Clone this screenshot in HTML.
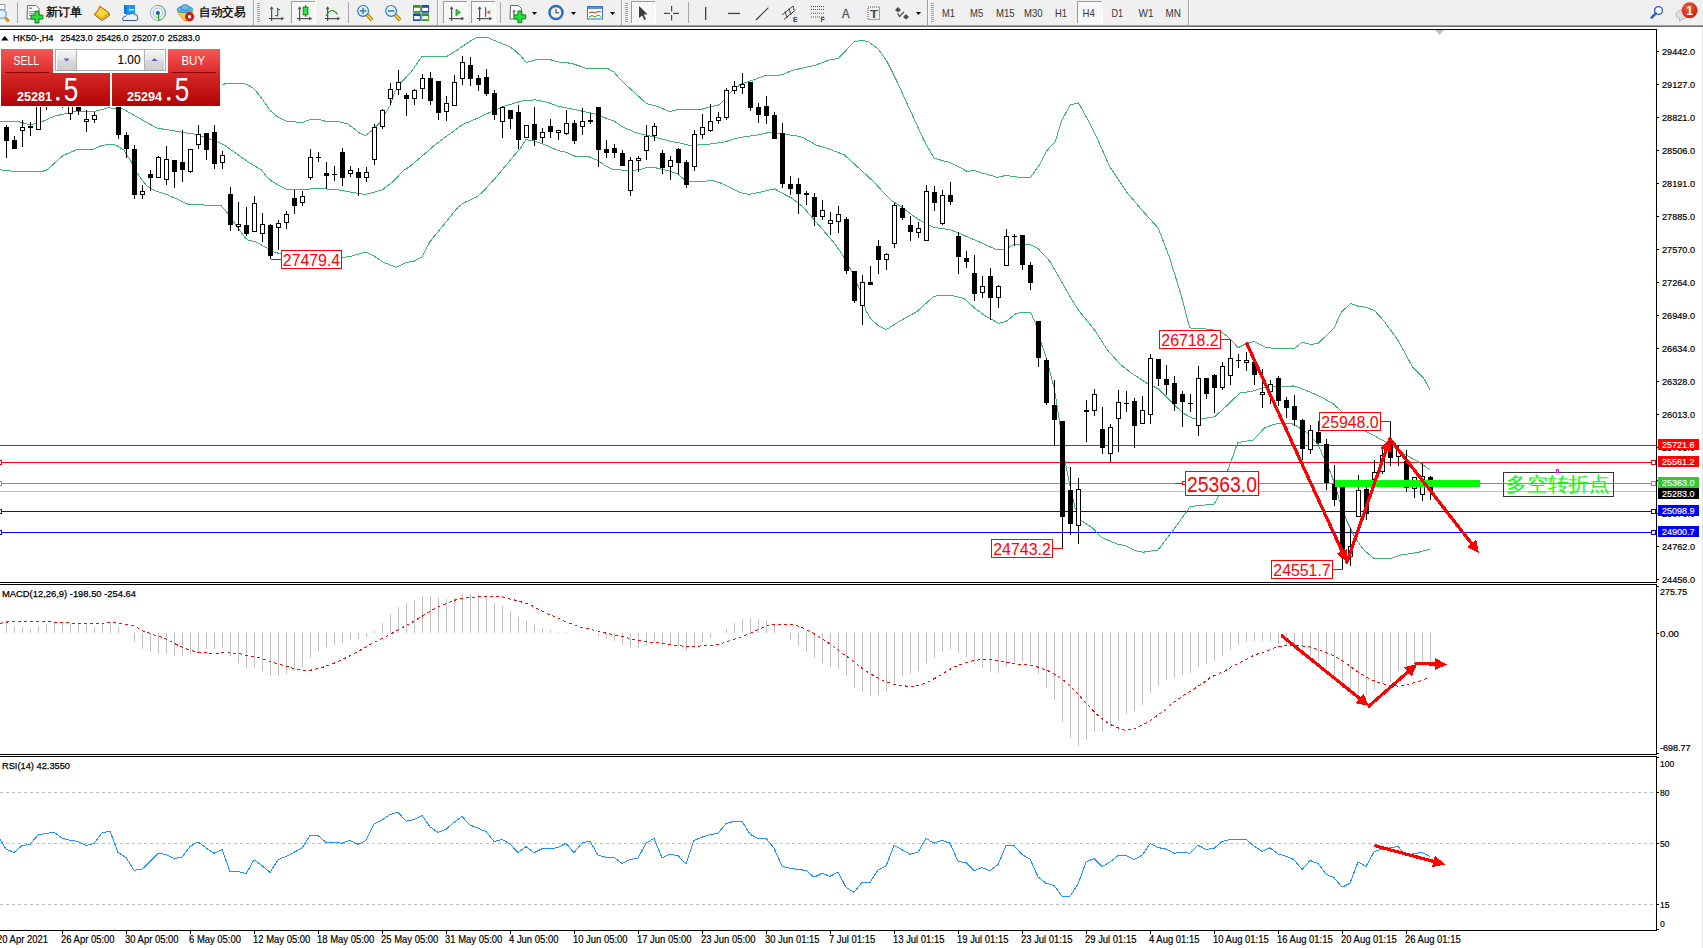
<!DOCTYPE html><html><head><meta charset="utf-8"><title>MT4 HK50 H4</title><style>
html,body{margin:0;padding:0;width:1703px;height:948px;overflow:hidden;background:#fff}
svg{display:block}text{font-family:"Liberation Sans",sans-serif}
</style></head><body>
<svg width="1703" height="948" viewBox="0 0 1703 948">
<defs><linearGradient id="gTop" x1="0" y1="0" x2="0" y2="1"><stop offset="0" stop-color="#f65656"/><stop offset="1" stop-color="#dc2a2a"/></linearGradient><linearGradient id="gBot" x1="0" y1="0" x2="0" y2="1"><stop offset="0" stop-color="#d82828"/><stop offset="1" stop-color="#b00404"/></linearGradient><linearGradient id="gBtn" x1="0" y1="0" x2="0" y2="1"><stop offset="0" stop-color="#f4f4f4"/><stop offset="0.45" stop-color="#e6e6e6"/><stop offset="0.5" stop-color="#d8d8d8"/><stop offset="1" stop-color="#cfcfcf"/></linearGradient><radialGradient id="gRed" cx="0.4" cy="0.35" r="0.7"><stop offset="0" stop-color="#f0603a"/><stop offset="1" stop-color="#d01a0a"/></radialGradient></defs>
<rect x="0" y="0" width="1703" height="25" fill="#f0f0f0"/>
<rect x="0" y="25" width="1703" height="1" fill="#a0a0a0"/>
<rect x="0" y="26" width="1703" height="1" fill="#6c6c6c"/>
<rect x="1702" y="27" width="1" height="921" fill="#e4e4e4"/>
<g shape-rendering="crispEdges">
<rect x="0" y="29" width="1657" height="1" fill="#000"/>
<rect x="1656" y="29" width="1" height="554" fill="#000"/>
<rect x="0" y="582" width="1657" height="1" fill="#000"/>
<rect x="0" y="584" width="1657" height="1" fill="#000"/>
<rect x="1656" y="584" width="1" height="171" fill="#000"/>
<rect x="0" y="754" width="1657" height="1" fill="#000"/>
<rect x="0" y="756" width="1657" height="1" fill="#000"/>
<rect x="1656" y="756" width="1" height="175" fill="#000"/>
<rect x="0" y="930" width="1657" height="1" fill="#000"/>
</g>
<polygon points="1435,30 1444,30 1439.5,35" fill="#c0c0c0"/>
<g shape-rendering="crispEdges">
<rect x="0" y="445" width="1656" height="1" fill="#ff0000"/>
<rect x="0" y="462" width="1656" height="1" fill="#ff0000"/>
<rect x="0" y="483" width="1175" height="1" fill="#32cd32"/>
<rect x="1259" y="483" width="397" height="1" fill="#32cd32"/>
<rect x="0" y="491" width="1656" height="1" fill="#c0c0c0"/>
<rect x="0" y="511" width="1656" height="1" fill="#0000ff"/>
<rect x="0" y="532" width="1656" height="1" fill="#0000ff"/>
<rect x="1651.5" y="460.5" width="4" height="4" fill="#fff" stroke="#ff0000" stroke-width="1"/>
<rect x="-2.5" y="460.5" width="4" height="4" fill="#fff" stroke="#ff0000" stroke-width="1"/>
<rect x="1651.5" y="481.5" width="4" height="4" fill="#fff" stroke="#32cd32" stroke-width="1"/>
<rect x="-2.5" y="481.5" width="4" height="4" fill="#fff" stroke="#32cd32" stroke-width="1"/>
<rect x="1651.5" y="509.5" width="4" height="4" fill="#fff" stroke="#0000ff" stroke-width="1"/>
<rect x="-2.5" y="509.5" width="4" height="4" fill="#fff" stroke="#0000ff" stroke-width="1"/>
<rect x="1651.5" y="530.5" width="4" height="4" fill="#fff" stroke="#0000ff" stroke-width="1"/>
<rect x="-2.5" y="530.5" width="4" height="4" fill="#fff" stroke="#0000ff" stroke-width="1"/>
</g>
<g shape-rendering="crispEdges">
<polyline points="0.0,82.0 100.0,78.0 200.0,82.0 222.1,84.6 227.0,83.4 242.3,83.4 247.0,84.6 254.0,88.7 261.1,97.5 270.5,111.0 277.5,116.9 286.9,121.6 299.8,122.2 303.3,122.2 310.4,119.3 319.8,119.5 325.7,121.4 338.6,121.6 348.0,124.0 359.7,133.1 365.6,135.5 371.5,131.0 379.7,122.8 390.3,105.2 395.0,91.1 401.3,82.4 410.8,72.2 421.9,56.6 430.0,56.5 446.7,56.5 457.0,50.3 464.0,45.3 471.1,40.6 477.6,37.4 487.5,37.4 494.6,40.6 503.4,44.1 509.3,46.5 515.1,50.6 521.0,56.2 526.3,62.6 530.0,61.5 537.6,59.4 551.1,59.9 557.9,61.9 571.4,63.3 581.5,66.7 588.3,69.0 595.0,68.4 607.1,68.2 613.8,71.9 618.9,77.8 625.6,84.6 634.1,92.2 646.7,103.7 657.7,106.5 669.5,111.6 676.3,109.9 689.8,109.4 701.8,109.2 710.3,106.7 718.7,105.0 723.8,100.4 730.5,92.3 740.6,84.2 750.8,80.8 764.3,75.8 776.8,75.6 783.5,74.2 791.9,70.5 815.6,65.1 829.1,60.0 838.4,58.4 849.3,46.9 854.4,41.5 861.1,40.5 867.9,41.3 878.0,48.9 886.5,60.4 896.6,80.6 905.0,99.2 915.1,121.1 923.6,139.7 926.8,145.7 934.3,158.4 950.4,162.6 967.3,171.4 974.0,170.3 982.4,173.0 997.6,177.4 1006.1,175.4 1019.6,177.4 1030.5,177.4 1039.8,164.3 1046.6,150.8 1055.0,142.0 1061.8,120.4 1070.2,104.9 1078.5,102.8 1087.1,118.5 1098.5,141.3 1109.9,166.9 1127.0,192.6 1144.1,212.5 1158.3,228.2 1169.7,258.1 1181.1,295.1 1189.7,327.9 1212.9,329.5 1222.4,332.7 1228.7,337.4 1238.2,347.7 1246.1,343.7 1254.0,341.4 1265.1,347.2 1274.6,348.5 1294.5,348.2 1302.4,342.2 1311.2,344.6 1318.3,343.2 1334.1,328.0 1341.2,312.2 1350.7,303.5 1357.8,306.1 1366.5,307.4 1374.5,310.6 1384.0,320.9 1398.2,340.6 1412.4,366.8 1423.5,377.8 1429.9,389.7" fill="none" stroke="#3cb371" stroke-width="1"/>
<polyline points="0.0,121.6 17.9,121.6 30.6,124.8 34.8,123.7 42.2,121.6 54.9,116.0 63.3,114.2 73.9,111.8 95.0,111.4 107.6,107.9 121.3,108.4 124.0,109.5 134.4,115.5 156.9,128.1 181.1,132.0 196.7,134.5 214.0,140.6 220.9,143.2 227.8,147.5 248.0,161.8 261.3,169.9 267.2,177.3 271.6,181.0 280.0,186.1 286.5,189.4 305.8,189.1 322.6,188.7 339.4,190.0 357.5,193.3 365.3,194.5 382.1,190.0 393.4,181.3 404.0,170.0 409.2,167.1 426.0,152.7 435.5,144.4 462.4,124.7 473.5,119.9 492.5,111.2 503.5,106.5 514.0,103.3 524.1,100.4 535.9,99.9 547.8,102.4 557.9,106.2 571.4,108.9 584.9,111.7 595.0,113.9 603.4,117.3 613.8,120.9 622.3,126.8 635.8,132.7 645.9,135.2 657.7,137.8 669.5,141.1 681.3,143.3 690.0,145.5 705.2,144.6 723.8,142.1 739.0,137.6 757.5,135.0 771.0,132.0 786.9,134.6 798.7,136.3 803.8,138.0 815.6,144.8 829.1,149.0 844.3,154.9 861.1,170.1 874.6,182.7 882.9,191.9 891.3,200.4 899.8,205.8 911.6,214.7 921.7,221.5 933.5,227.4 950.4,229.7 967.3,236.8 979.3,241.9 996.0,249.5 1004.6,249.5 1014.5,244.4 1029.7,244.4 1038.1,248.7 1050.0,261.4 1070.0,296.6 1078.3,310.0 1094.8,330.3 1107.5,350.1 1120.2,364.3 1131.2,373.0 1147.1,383.3 1158.1,388.8 1172.4,403.1 1183.4,413.4 1192.3,418.1 1201.8,418.9 1214.5,416.8 1225.6,406.7 1239.8,393.1 1252.5,391.2 1265.1,387.2 1274.6,386.1 1294.3,386.0 1307.8,391.1 1321.3,397.0 1333.1,403.8 1342.0,411.9 1353.3,420.6 1365.4,431.0 1385.7,442.0 1400.9,452.1 1417.7,461.4 1429.9,469.8" fill="none" stroke="#3cb371" stroke-width="1"/>
<polyline points="0.0,169.1 3.2,170.5 19.0,171.5 41.7,171.5 46.4,170.2 63.3,155.4 78.1,149.0 93.9,149.0 101.3,145.6 109.7,144.3 116.0,145.1 124.0,150.1 130.9,161.4 137.8,174.3 146.5,185.6 155.1,190.8 167.3,194.6 175.9,198.6 186.3,203.7 189.7,204.6 220.9,205.5 227.8,213.3 234.7,223.6 245.1,237.5 248.0,240.0 256.9,242.3 267.2,248.2 273.8,251.9 281.2,254.1 300.0,256.0 320.0,257.0 342.0,257.6 352.4,255.9 365.3,252.0 373.0,255.3 383.4,262.4 396.3,267.2 406.6,262.4 414.4,261.1 422.1,256.8 429.9,241.7 444.1,224.3 458.3,206.8 464.8,202.3 477.7,196.5 484.5,190.0 495.6,177.7 508.3,162.6 514.0,155.6 520.8,148.0 525.8,139.6 534.3,140.9 544.4,144.6 557.9,150.5 566.3,152.2 574.8,156.1 588.3,156.5 598.4,160.7 605.1,165.7 612.1,169.0 627.3,170.7 639.1,169.8 647.6,167.3 657.7,168.1 669.5,171.2 677.9,174.0 684.7,180.0 689.8,181.3 713.6,180.9 722.1,183.5 740.6,192.7 749.1,194.4 757.5,192.7 774.4,188.9 786.0,195.3 791.9,198.2 803.5,207.4 817.4,223.7 833.7,242.3 841.8,253.9 852.2,272.4 861.5,293.3 866.0,310.9 871.1,319.4 877.8,325.3 886.3,329.5 899.8,321.1 916.6,311.8 933.5,296.6 938.6,295.2 950.4,295.2 964.1,298.5 974.3,307.8 984.4,315.4 998.7,323.3 1006.3,321.3 1016.4,313.2 1024.9,312.5 1030.8,312.5 1036.7,326.3 1041.6,344.2 1046.7,359.4 1054.3,388.5 1059.3,420.1 1064.9,460.6 1070.4,487.5 1075.1,508.1 1081.5,520.8 1092.5,527.9 1100.5,536.6 1103.3,538.2 1116.6,543.8 1126.9,546.3 1135.8,550.7 1143.2,552.2 1158.0,550.0 1172.7,530.8 1190.4,506.4 1214.1,504.2 1218.5,496.1 1228.8,467.3 1237.7,442.9 1243.6,441.4 1252.5,440.3 1265.1,427.6 1274.6,424.1 1290.9,423.2 1296.0,425.7 1307.8,433.3 1317.9,444.3 1324.6,459.5 1331.4,474.6 1335.1,485.8 1341.8,507.8 1346.9,521.3 1355.3,538.1 1363.7,550.0 1373.9,558.4 1390.8,558.4 1400.9,555.0 1417.7,552.5 1429.9,549.1" fill="none" stroke="#3cb371" stroke-width="1"/>
</g>
<g shape-rendering="crispEdges" fill="#000">
<rect x="6" y="125" width="1" height="33"/>
<rect x="4" y="127" width="5" height="14"/>
<rect x="14" y="136" width="1" height="13"/>
<rect x="12" y="140" width="5" height="9"/>
<rect x="22" y="120" width="1" height="27"/>
<rect x="20" y="127" width="5" height="4"/>
<rect x="21" y="128" width="3" height="2" fill="#fff"/>
<rect x="30" y="122" width="1" height="14"/>
<rect x="28" y="126" width="5" height="2"/>
<rect x="38" y="90" width="1" height="40"/>
<rect x="36" y="95" width="5" height="35"/>
<rect x="37" y="96" width="3" height="33" fill="#fff"/>
<rect x="46" y="85" width="1" height="25"/>
<rect x="44" y="90" width="5" height="10"/>
<rect x="54" y="80" width="1" height="20"/>
<rect x="52" y="85" width="5" height="10"/>
<rect x="53" y="86" width="3" height="8" fill="#fff"/>
<rect x="62" y="84" width="1" height="24"/>
<rect x="60" y="88" width="5" height="12"/>
<rect x="70" y="100" width="1" height="20"/>
<rect x="68" y="106" width="5" height="8"/>
<rect x="69" y="107" width="3" height="6" fill="#fff"/>
<rect x="78" y="96" width="1" height="19"/>
<rect x="76" y="100" width="5" height="11"/>
<rect x="86" y="110" width="1" height="22"/>
<rect x="84" y="119" width="5" height="3"/>
<rect x="85" y="120" width="3" height="1" fill="#fff"/>
<rect x="94" y="112" width="1" height="11"/>
<rect x="92" y="115" width="5" height="5"/>
<rect x="93" y="116" width="3" height="3" fill="#fff"/>
<rect x="102" y="85" width="1" height="19"/>
<rect x="100" y="90" width="5" height="10"/>
<rect x="110" y="84" width="1" height="19"/>
<rect x="108" y="88" width="5" height="10"/>
<rect x="109" y="89" width="3" height="8" fill="#fff"/>
<rect x="118" y="98" width="1" height="41"/>
<rect x="116" y="100" width="5" height="35"/>
<rect x="126" y="132" width="1" height="26"/>
<rect x="124" y="135" width="5" height="14"/>
<rect x="134" y="145" width="1" height="54"/>
<rect x="132" y="149" width="5" height="46"/>
<rect x="142" y="185" width="1" height="14"/>
<rect x="140" y="191" width="5" height="4"/>
<rect x="141" y="192" width="3" height="2" fill="#fff"/>
<rect x="150" y="170" width="1" height="21"/>
<rect x="148" y="174" width="5" height="4"/>
<rect x="158" y="156" width="1" height="22"/>
<rect x="156" y="157" width="5" height="21"/>
<rect x="157" y="158" width="3" height="19" fill="#fff"/>
<rect x="166" y="146" width="1" height="39"/>
<rect x="164" y="159" width="5" height="21"/>
<rect x="165" y="160" width="3" height="19" fill="#fff"/>
<rect x="174" y="160" width="1" height="28"/>
<rect x="172" y="160" width="5" height="12"/>
<rect x="182" y="130" width="1" height="52"/>
<rect x="180" y="162" width="5" height="8"/>
<rect x="190" y="149" width="1" height="24"/>
<rect x="188" y="149" width="5" height="23"/>
<rect x="189" y="150" width="3" height="21" fill="#fff"/>
<rect x="198" y="125" width="1" height="24"/>
<rect x="196" y="134" width="5" height="11"/>
<rect x="197" y="135" width="3" height="9" fill="#fff"/>
<rect x="206" y="133" width="1" height="27"/>
<rect x="204" y="133" width="5" height="17"/>
<rect x="214" y="125" width="1" height="44"/>
<rect x="212" y="132" width="5" height="32"/>
<rect x="222" y="151" width="1" height="18"/>
<rect x="220" y="155" width="5" height="8"/>
<rect x="221" y="156" width="3" height="6" fill="#fff"/>
<rect x="230" y="187" width="1" height="44"/>
<rect x="228" y="194" width="5" height="31"/>
<rect x="238" y="202" width="1" height="29"/>
<rect x="236" y="224" width="5" height="3"/>
<rect x="237" y="225" width="3" height="1" fill="#fff"/>
<rect x="246" y="207" width="1" height="29"/>
<rect x="244" y="225" width="5" height="9"/>
<rect x="254" y="196" width="1" height="36"/>
<rect x="252" y="203" width="5" height="29"/>
<rect x="253" y="204" width="3" height="27" fill="#fff"/>
<rect x="262" y="213" width="1" height="29"/>
<rect x="260" y="224" width="5" height="10"/>
<rect x="261" y="225" width="3" height="8" fill="#fff"/>
<rect x="270" y="224" width="1" height="35"/>
<rect x="268" y="225" width="5" height="31"/>
<rect x="278" y="220" width="1" height="30"/>
<rect x="276" y="223" width="5" height="5"/>
<rect x="277" y="224" width="3" height="3" fill="#fff"/>
<rect x="286" y="211" width="1" height="18"/>
<rect x="284" y="214" width="5" height="9"/>
<rect x="285" y="215" width="3" height="7" fill="#fff"/>
<rect x="294" y="190" width="1" height="24"/>
<rect x="292" y="198" width="5" height="8"/>
<rect x="302" y="191" width="1" height="15"/>
<rect x="300" y="196" width="5" height="7"/>
<rect x="301" y="197" width="3" height="5" fill="#fff"/>
<rect x="310" y="149" width="1" height="31"/>
<rect x="308" y="157" width="5" height="21"/>
<rect x="309" y="158" width="3" height="19" fill="#fff"/>
<rect x="318" y="152" width="1" height="10"/>
<rect x="316" y="157" width="5" height="1"/>
<rect x="326" y="162" width="1" height="27"/>
<rect x="324" y="173" width="5" height="3"/>
<rect x="334" y="166" width="1" height="15"/>
<rect x="332" y="174" width="5" height="1"/>
<rect x="342" y="148" width="1" height="38"/>
<rect x="340" y="152" width="5" height="26"/>
<rect x="350" y="166" width="1" height="11"/>
<rect x="348" y="170" width="5" height="4"/>
<rect x="349" y="171" width="3" height="2" fill="#fff"/>
<rect x="358" y="168" width="1" height="28"/>
<rect x="356" y="172" width="5" height="6"/>
<rect x="366" y="167" width="1" height="15"/>
<rect x="364" y="172" width="5" height="6"/>
<rect x="365" y="173" width="3" height="4" fill="#fff"/>
<rect x="374" y="124" width="1" height="41"/>
<rect x="372" y="127" width="5" height="33"/>
<rect x="373" y="128" width="3" height="31" fill="#fff"/>
<rect x="382" y="109" width="1" height="20"/>
<rect x="380" y="110" width="5" height="17"/>
<rect x="381" y="111" width="3" height="15" fill="#fff"/>
<rect x="390" y="83" width="1" height="22"/>
<rect x="388" y="89" width="5" height="10"/>
<rect x="389" y="90" width="3" height="8" fill="#fff"/>
<rect x="398" y="70" width="1" height="25"/>
<rect x="396" y="82" width="5" height="8"/>
<rect x="397" y="83" width="3" height="6" fill="#fff"/>
<rect x="406" y="93" width="1" height="23"/>
<rect x="404" y="95" width="5" height="4"/>
<rect x="414" y="89" width="1" height="16"/>
<rect x="412" y="90" width="5" height="9"/>
<rect x="413" y="91" width="3" height="7" fill="#fff"/>
<rect x="422" y="74" width="1" height="25"/>
<rect x="420" y="78" width="5" height="11"/>
<rect x="421" y="79" width="3" height="9" fill="#fff"/>
<rect x="430" y="72" width="1" height="33"/>
<rect x="428" y="78" width="5" height="23"/>
<rect x="438" y="81" width="1" height="39"/>
<rect x="436" y="81" width="5" height="32"/>
<rect x="446" y="96" width="1" height="25"/>
<rect x="444" y="103" width="5" height="9"/>
<rect x="445" y="104" width="3" height="7" fill="#fff"/>
<rect x="454" y="75" width="1" height="31"/>
<rect x="452" y="82" width="5" height="24"/>
<rect x="453" y="83" width="3" height="22" fill="#fff"/>
<rect x="462" y="56" width="1" height="29"/>
<rect x="460" y="62" width="5" height="17"/>
<rect x="461" y="63" width="3" height="15" fill="#fff"/>
<rect x="470" y="57" width="1" height="29"/>
<rect x="468" y="65" width="5" height="14"/>
<rect x="478" y="75" width="1" height="16"/>
<rect x="476" y="78" width="5" height="7"/>
<rect x="486" y="69" width="1" height="27"/>
<rect x="484" y="77" width="5" height="17"/>
<rect x="494" y="90" width="1" height="30"/>
<rect x="492" y="93" width="5" height="22"/>
<rect x="502" y="106" width="1" height="32"/>
<rect x="500" y="107" width="5" height="15"/>
<rect x="501" y="108" width="3" height="13" fill="#fff"/>
<rect x="510" y="110" width="1" height="19"/>
<rect x="508" y="110" width="5" height="9"/>
<rect x="518" y="105" width="1" height="44"/>
<rect x="516" y="112" width="5" height="28"/>
<rect x="526" y="125" width="1" height="13"/>
<rect x="524" y="125" width="5" height="13"/>
<rect x="525" y="126" width="3" height="11" fill="#fff"/>
<rect x="534" y="107" width="1" height="39"/>
<rect x="532" y="124" width="5" height="16"/>
<rect x="542" y="128" width="1" height="15"/>
<rect x="540" y="132" width="5" height="6"/>
<rect x="541" y="133" width="3" height="4" fill="#fff"/>
<rect x="550" y="119" width="1" height="19"/>
<rect x="548" y="126" width="5" height="6"/>
<rect x="558" y="130" width="1" height="10"/>
<rect x="556" y="130" width="5" height="3"/>
<rect x="557" y="131" width="3" height="1" fill="#fff"/>
<rect x="566" y="110" width="1" height="25"/>
<rect x="564" y="123" width="5" height="11"/>
<rect x="565" y="124" width="3" height="9" fill="#fff"/>
<rect x="574" y="120" width="1" height="24"/>
<rect x="572" y="123" width="5" height="18"/>
<rect x="582" y="108" width="1" height="27"/>
<rect x="580" y="121" width="5" height="6"/>
<rect x="581" y="122" width="3" height="4" fill="#fff"/>
<rect x="590" y="113" width="1" height="11"/>
<rect x="588" y="120" width="5" height="2"/>
<rect x="598" y="107" width="1" height="60"/>
<rect x="596" y="107" width="5" height="43"/>
<rect x="606" y="140" width="1" height="18"/>
<rect x="604" y="149" width="5" height="4"/>
<rect x="614" y="144" width="1" height="14"/>
<rect x="612" y="148" width="5" height="5"/>
<rect x="622" y="150" width="1" height="16"/>
<rect x="620" y="153" width="5" height="13"/>
<rect x="630" y="157" width="1" height="39"/>
<rect x="628" y="160" width="5" height="31"/>
<rect x="629" y="161" width="3" height="29" fill="#fff"/>
<rect x="638" y="156" width="1" height="16"/>
<rect x="636" y="158" width="5" height="3"/>
<rect x="637" y="159" width="3" height="1" fill="#fff"/>
<rect x="646" y="125" width="1" height="35"/>
<rect x="644" y="136" width="5" height="15"/>
<rect x="645" y="137" width="3" height="13" fill="#fff"/>
<rect x="654" y="123" width="1" height="18"/>
<rect x="652" y="126" width="5" height="10"/>
<rect x="653" y="127" width="3" height="8" fill="#fff"/>
<rect x="662" y="150" width="1" height="24"/>
<rect x="660" y="153" width="5" height="15"/>
<rect x="670" y="156" width="1" height="24"/>
<rect x="668" y="160" width="5" height="7"/>
<rect x="669" y="161" width="3" height="5" fill="#fff"/>
<rect x="678" y="148" width="1" height="27"/>
<rect x="676" y="149" width="5" height="14"/>
<rect x="686" y="160" width="1" height="28"/>
<rect x="684" y="162" width="5" height="23"/>
<rect x="694" y="130" width="1" height="41"/>
<rect x="692" y="134" width="5" height="33"/>
<rect x="693" y="135" width="3" height="31" fill="#fff"/>
<rect x="702" y="114" width="1" height="25"/>
<rect x="700" y="127" width="5" height="8"/>
<rect x="701" y="128" width="3" height="6" fill="#fff"/>
<rect x="710" y="104" width="1" height="28"/>
<rect x="708" y="121" width="5" height="10"/>
<rect x="709" y="122" width="3" height="8" fill="#fff"/>
<rect x="718" y="112" width="1" height="12"/>
<rect x="716" y="117" width="5" height="4"/>
<rect x="717" y="118" width="3" height="2" fill="#fff"/>
<rect x="726" y="88" width="1" height="32"/>
<rect x="724" y="90" width="5" height="28"/>
<rect x="725" y="91" width="3" height="26" fill="#fff"/>
<rect x="734" y="81" width="1" height="13"/>
<rect x="732" y="86" width="5" height="5"/>
<rect x="733" y="87" width="3" height="3" fill="#fff"/>
<rect x="742" y="73" width="1" height="21"/>
<rect x="740" y="84" width="5" height="4"/>
<rect x="741" y="85" width="3" height="2" fill="#fff"/>
<rect x="750" y="82" width="1" height="29"/>
<rect x="748" y="82" width="5" height="26"/>
<rect x="758" y="103" width="1" height="20"/>
<rect x="756" y="107" width="5" height="8"/>
<rect x="766" y="96" width="1" height="28"/>
<rect x="764" y="106" width="5" height="10"/>
<rect x="774" y="112" width="1" height="27"/>
<rect x="772" y="115" width="5" height="24"/>
<rect x="782" y="123" width="1" height="65"/>
<rect x="780" y="133" width="5" height="51"/>
<rect x="790" y="176" width="1" height="19"/>
<rect x="788" y="184" width="5" height="5"/>
<rect x="798" y="178" width="1" height="36"/>
<rect x="796" y="184" width="5" height="10"/>
<rect x="806" y="191" width="1" height="14"/>
<rect x="804" y="193" width="5" height="2"/>
<rect x="814" y="193" width="1" height="33"/>
<rect x="812" y="197" width="5" height="20"/>
<rect x="822" y="200" width="1" height="20"/>
<rect x="820" y="210" width="5" height="7"/>
<rect x="821" y="211" width="3" height="5" fill="#fff"/>
<rect x="830" y="212" width="1" height="23"/>
<rect x="828" y="220" width="5" height="4"/>
<rect x="829" y="221" width="3" height="2" fill="#fff"/>
<rect x="838" y="206" width="1" height="27"/>
<rect x="836" y="214" width="5" height="8"/>
<rect x="837" y="215" width="3" height="6" fill="#fff"/>
<rect x="846" y="217" width="1" height="57"/>
<rect x="844" y="219" width="5" height="52"/>
<rect x="854" y="271" width="1" height="32"/>
<rect x="852" y="271" width="5" height="30"/>
<rect x="862" y="275" width="1" height="50"/>
<rect x="860" y="282" width="5" height="24"/>
<rect x="861" y="283" width="3" height="22" fill="#fff"/>
<rect x="870" y="266" width="1" height="19"/>
<rect x="868" y="282" width="5" height="3"/>
<rect x="878" y="240" width="1" height="34"/>
<rect x="876" y="246" width="5" height="14"/>
<rect x="886" y="253" width="1" height="17"/>
<rect x="884" y="254" width="5" height="6"/>
<rect x="885" y="255" width="3" height="4" fill="#fff"/>
<rect x="894" y="203" width="1" height="45"/>
<rect x="892" y="205" width="5" height="39"/>
<rect x="893" y="206" width="3" height="37" fill="#fff"/>
<rect x="902" y="205" width="1" height="15"/>
<rect x="900" y="208" width="5" height="10"/>
<rect x="910" y="216" width="1" height="25"/>
<rect x="908" y="225" width="5" height="7"/>
<rect x="918" y="222" width="1" height="16"/>
<rect x="916" y="228" width="5" height="5"/>
<rect x="917" y="229" width="3" height="3" fill="#fff"/>
<rect x="926" y="185" width="1" height="56"/>
<rect x="924" y="191" width="5" height="50"/>
<rect x="925" y="192" width="3" height="48" fill="#fff"/>
<rect x="934" y="186" width="1" height="25"/>
<rect x="932" y="192" width="5" height="11"/>
<rect x="942" y="190" width="1" height="35"/>
<rect x="940" y="195" width="5" height="29"/>
<rect x="941" y="196" width="3" height="27" fill="#fff"/>
<rect x="950" y="182" width="1" height="23"/>
<rect x="948" y="195" width="5" height="7"/>
<rect x="958" y="232" width="1" height="42"/>
<rect x="956" y="236" width="5" height="21"/>
<rect x="966" y="251" width="1" height="17"/>
<rect x="964" y="258" width="5" height="4"/>
<rect x="974" y="255" width="1" height="46"/>
<rect x="972" y="273" width="5" height="21"/>
<rect x="982" y="276" width="1" height="22"/>
<rect x="980" y="286" width="5" height="7"/>
<rect x="981" y="287" width="3" height="5" fill="#fff"/>
<rect x="990" y="268" width="1" height="52"/>
<rect x="988" y="276" width="5" height="22"/>
<rect x="998" y="285" width="1" height="23"/>
<rect x="996" y="286" width="5" height="12"/>
<rect x="997" y="287" width="3" height="10" fill="#fff"/>
<rect x="1006" y="229" width="1" height="37"/>
<rect x="1004" y="236" width="5" height="30"/>
<rect x="1005" y="237" width="3" height="28" fill="#fff"/>
<rect x="1014" y="234" width="1" height="12"/>
<rect x="1012" y="236" width="5" height="1"/>
<rect x="1022" y="235" width="1" height="35"/>
<rect x="1020" y="235" width="5" height="30"/>
<rect x="1030" y="262" width="1" height="28"/>
<rect x="1028" y="265" width="5" height="18"/>
<rect x="1038" y="321" width="1" height="46"/>
<rect x="1036" y="321" width="5" height="37"/>
<rect x="1046" y="358" width="1" height="47"/>
<rect x="1044" y="360" width="5" height="43"/>
<rect x="1054" y="380" width="1" height="66"/>
<rect x="1052" y="405" width="5" height="15"/>
<rect x="1062" y="421" width="1" height="127"/>
<rect x="1060" y="421" width="5" height="96"/>
<rect x="1070" y="467" width="1" height="68"/>
<rect x="1068" y="490" width="5" height="34"/>
<rect x="1078" y="478" width="1" height="66"/>
<rect x="1076" y="489" width="5" height="37"/>
<rect x="1077" y="490" width="3" height="35" fill="#fff"/>
<rect x="1086" y="400" width="1" height="42"/>
<rect x="1084" y="410" width="5" height="2"/>
<rect x="1094" y="389" width="1" height="27"/>
<rect x="1092" y="394" width="5" height="17"/>
<rect x="1093" y="395" width="3" height="15" fill="#fff"/>
<rect x="1102" y="407" width="1" height="47"/>
<rect x="1100" y="429" width="5" height="19"/>
<rect x="1110" y="424" width="1" height="38"/>
<rect x="1108" y="427" width="5" height="27"/>
<rect x="1109" y="428" width="3" height="25" fill="#fff"/>
<rect x="1118" y="390" width="1" height="62"/>
<rect x="1116" y="402" width="5" height="17"/>
<rect x="1117" y="403" width="3" height="15" fill="#fff"/>
<rect x="1126" y="391" width="1" height="21"/>
<rect x="1124" y="403" width="5" height="1"/>
<rect x="1134" y="398" width="1" height="50"/>
<rect x="1132" y="401" width="5" height="25"/>
<rect x="1142" y="396" width="1" height="28"/>
<rect x="1140" y="410" width="5" height="14"/>
<rect x="1141" y="411" width="3" height="12" fill="#fff"/>
<rect x="1150" y="354" width="1" height="70"/>
<rect x="1148" y="358" width="5" height="57"/>
<rect x="1149" y="359" width="3" height="55" fill="#fff"/>
<rect x="1158" y="359" width="1" height="27"/>
<rect x="1156" y="359" width="5" height="20"/>
<rect x="1166" y="365" width="1" height="30"/>
<rect x="1164" y="379" width="5" height="6"/>
<rect x="1174" y="376" width="1" height="35"/>
<rect x="1172" y="383" width="5" height="21"/>
<rect x="1182" y="391" width="1" height="36"/>
<rect x="1180" y="394" width="5" height="8"/>
<rect x="1190" y="394" width="1" height="18"/>
<rect x="1188" y="403" width="5" height="1"/>
<rect x="1198" y="366" width="1" height="70"/>
<rect x="1196" y="378" width="5" height="48"/>
<rect x="1197" y="379" width="3" height="46" fill="#fff"/>
<rect x="1206" y="378" width="1" height="21"/>
<rect x="1204" y="378" width="5" height="16"/>
<rect x="1214" y="374" width="1" height="39"/>
<rect x="1212" y="375" width="5" height="13"/>
<rect x="1222" y="362" width="1" height="28"/>
<rect x="1220" y="366" width="5" height="22"/>
<rect x="1221" y="367" width="3" height="20" fill="#fff"/>
<rect x="1230" y="339" width="1" height="46"/>
<rect x="1228" y="358" width="5" height="18"/>
<rect x="1229" y="359" width="3" height="16" fill="#fff"/>
<rect x="1238" y="354" width="1" height="14"/>
<rect x="1236" y="360" width="5" height="1"/>
<rect x="1246" y="352" width="1" height="19"/>
<rect x="1244" y="360" width="5" height="3"/>
<rect x="1245" y="361" width="3" height="1" fill="#fff"/>
<rect x="1254" y="362" width="1" height="23"/>
<rect x="1252" y="362" width="5" height="13"/>
<rect x="1262" y="369" width="1" height="39"/>
<rect x="1260" y="392" width="5" height="3"/>
<rect x="1261" y="393" width="3" height="1" fill="#fff"/>
<rect x="1270" y="380" width="1" height="24"/>
<rect x="1268" y="384" width="5" height="8"/>
<rect x="1269" y="385" width="3" height="6" fill="#fff"/>
<rect x="1278" y="376" width="1" height="30"/>
<rect x="1276" y="378" width="5" height="23"/>
<rect x="1286" y="397" width="1" height="21"/>
<rect x="1284" y="400" width="5" height="8"/>
<rect x="1294" y="395" width="1" height="31"/>
<rect x="1292" y="406" width="5" height="14"/>
<rect x="1302" y="419" width="1" height="41"/>
<rect x="1300" y="420" width="5" height="29"/>
<rect x="1310" y="425" width="1" height="29"/>
<rect x="1308" y="430" width="5" height="20"/>
<rect x="1309" y="431" width="3" height="18" fill="#fff"/>
<rect x="1318" y="421" width="1" height="23"/>
<rect x="1316" y="432" width="5" height="11"/>
<rect x="1326" y="439" width="1" height="51"/>
<rect x="1324" y="444" width="5" height="39"/>
<rect x="1334" y="465" width="1" height="41"/>
<rect x="1332" y="484" width="5" height="16"/>
<rect x="1342" y="487" width="1" height="82"/>
<rect x="1340" y="487" width="5" height="68"/>
<rect x="1350" y="528" width="1" height="38"/>
<rect x="1348" y="546" width="5" height="11"/>
<rect x="1349" y="547" width="3" height="9" fill="#fff"/>
<rect x="1358" y="475" width="1" height="42"/>
<rect x="1356" y="490" width="5" height="27"/>
<rect x="1357" y="491" width="3" height="25" fill="#fff"/>
<rect x="1366" y="487" width="1" height="33"/>
<rect x="1364" y="489" width="5" height="25"/>
<rect x="1374" y="460" width="1" height="24"/>
<rect x="1372" y="472" width="5" height="8"/>
<rect x="1373" y="473" width="3" height="6" fill="#fff"/>
<rect x="1382" y="448" width="1" height="26"/>
<rect x="1380" y="455" width="5" height="17"/>
<rect x="1381" y="456" width="3" height="15" fill="#fff"/>
<rect x="1390" y="421" width="1" height="45"/>
<rect x="1388" y="444" width="5" height="14"/>
<rect x="1398" y="445" width="1" height="21"/>
<rect x="1396" y="450" width="5" height="7"/>
<rect x="1397" y="451" width="3" height="5" fill="#fff"/>
<rect x="1406" y="450" width="1" height="42"/>
<rect x="1404" y="461" width="5" height="27"/>
<rect x="1414" y="477" width="1" height="21"/>
<rect x="1412" y="477" width="5" height="12"/>
<rect x="1413" y="478" width="3" height="10" fill="#fff"/>
<rect x="1422" y="463" width="1" height="38"/>
<rect x="1420" y="476" width="5" height="19"/>
<rect x="1421" y="477" width="3" height="17" fill="#fff"/>
<rect x="1430" y="476" width="1" height="24"/>
<rect x="1428" y="477" width="5" height="14"/>
</g>
<rect x="1335" y="480" width="145" height="7" fill="#00ff00" shape-rendering="crispEdges"/>
<rect x="281.5" y="250.5" width="60" height="18" fill="#fff" stroke="#ff0000" stroke-width="1" shape-rendering="crispEdges"/>
<text x="311.5" y="266" font-size="17" fill="#ff0000" text-anchor="middle" font-weight="normal" textLength="57.4" lengthAdjust="spacingAndGlyphs">27479.4</text>
<rect x="271" y="259" width="10" height="1" fill="#ff0000"/>
<rect x="1159.5" y="330.5" width="61" height="18" fill="#fff" stroke="#ff0000" stroke-width="1" shape-rendering="crispEdges"/>
<text x="1190.0" y="346" font-size="17" fill="#ff0000" text-anchor="middle" font-weight="normal" textLength="57.4" lengthAdjust="spacingAndGlyphs">26718.2</text>
<polyline points="1221,339.5 1230.5,339.5" stroke="#ff0000" fill="none" stroke-width="1" shape-rendering="crispEdges"/>
<rect x="1319.5" y="412.5" width="61" height="18" fill="#fff" stroke="#ff0000" stroke-width="1" shape-rendering="crispEdges"/>
<text x="1350.0" y="428" font-size="17" fill="#ff0000" text-anchor="middle" font-weight="normal" textLength="57.4" lengthAdjust="spacingAndGlyphs">25948.0</text>
<polyline points="1381,421.5 1390.5,421.5" stroke="#ff0000" fill="none" stroke-width="1" shape-rendering="crispEdges"/>
<rect x="991.5" y="539.5" width="61" height="18" fill="#fff" stroke="#ff0000" stroke-width="1" shape-rendering="crispEdges"/>
<text x="1022.0" y="555" font-size="17" fill="#ff0000" text-anchor="middle" font-weight="normal" textLength="57.5" lengthAdjust="spacingAndGlyphs">24743.2</text>
<polyline points="1053,548.5 1062.5,548.5" stroke="#ff0000" fill="none" stroke-width="1" shape-rendering="crispEdges"/>
<rect x="1271.5" y="560.5" width="61" height="18" fill="#fff" stroke="#ff0000" stroke-width="1" shape-rendering="crispEdges"/>
<text x="1302.0" y="576" font-size="17" fill="#ff0000" text-anchor="middle" font-weight="normal" textLength="57.4" lengthAdjust="spacingAndGlyphs">24551.7</text>
<polyline points="1333,569.5 1342.5,569.5" stroke="#ff0000" fill="none" stroke-width="1" shape-rendering="crispEdges"/>
<rect x="1175" y="483" width="8" height="1" fill="#ff0000"/>
<rect x="1182.5" y="481.5" width="3" height="3" fill="#fff" stroke="#ff0000" stroke-width="1"/>
<rect x="1185.5" y="471.5" width="73" height="24" fill="#fff" stroke="#ff0000" stroke-width="1" shape-rendering="crispEdges"/>
<text x="1187" y="492.3" font-size="22" fill="#ff0000" text-anchor="start" font-weight="normal" textLength="70" lengthAdjust="spacingAndGlyphs">25363.0</text>
<rect x="1503.5" y="472.5" width="110" height="24" fill="none" stroke="#333" stroke-width="1" shape-rendering="crispEdges"/>
<text x="1558" y="491" font-size="20" fill="#00ff00" text-anchor="middle" font-weight="200" textLength="104" lengthAdjust="spacingAndGlyphs">多空转折点</text>
<rect x="1556.5" y="469.5" width="2" height="2.5" fill="none" stroke="#ff00ff" stroke-width="1" shape-rendering="crispEdges"/>
<rect x="1503" y="482" width="1" height="2" fill="#ff00ff"/><rect x="1613" y="482" width="1" height="2" fill="#ff00ff"/>
<line x1="1247" y1="344" x2="1342.0" y2="551.1" stroke="#ff0000" stroke-width="3.2" stroke-linecap="round" shape-rendering="crispEdges"/><polygon points="1347,562 1336.5,553.6 1347.5,548.6" fill="#ff0000" shape-rendering="crispEdges"/>
<line x1="1347" y1="562" x2="1386.0" y2="450.3" stroke="#ff0000" stroke-width="3.2" stroke-linecap="round" shape-rendering="crispEdges"/><polygon points="1390,439 1391.7,452.3 1380.4,448.3" fill="#ff0000" shape-rendering="crispEdges"/>
<line x1="1390" y1="439" x2="1471.6" y2="543.5" stroke="#ff0000" stroke-width="3.2" stroke-linecap="round" shape-rendering="crispEdges"/><polygon points="1479,553 1466.9,547.2 1476.3,539.8" fill="#ff0000" shape-rendering="crispEdges"/>
<g shape-rendering="crispEdges" fill="#c0c0c0">
<rect x="6" y="620" width="1" height="13"/>
<rect x="14" y="626" width="1" height="7"/>
<rect x="22" y="627" width="1" height="6"/>
<rect x="30" y="629" width="1" height="4"/>
<rect x="38" y="626" width="1" height="7"/>
<rect x="46" y="624" width="1" height="9"/>
<rect x="54" y="622" width="1" height="11"/>
<rect x="62" y="622" width="1" height="11"/>
<rect x="70" y="623" width="1" height="10"/>
<rect x="78" y="624" width="1" height="9"/>
<rect x="86" y="625" width="1" height="8"/>
<rect x="94" y="627" width="1" height="6"/>
<rect x="102" y="623" width="1" height="10"/>
<rect x="110" y="622" width="1" height="11"/>
<rect x="118" y="627" width="1" height="6"/>
<rect x="134" y="633" width="1" height="9"/>
<rect x="142" y="633" width="1" height="16"/>
<rect x="150" y="633" width="1" height="19"/>
<rect x="158" y="633" width="1" height="21"/>
<rect x="166" y="633" width="1" height="21"/>
<rect x="174" y="633" width="1" height="23"/>
<rect x="182" y="633" width="1" height="23"/>
<rect x="190" y="633" width="1" height="21"/>
<rect x="198" y="633" width="1" height="19"/>
<rect x="206" y="633" width="1" height="16"/>
<rect x="214" y="633" width="1" height="16"/>
<rect x="222" y="633" width="1" height="15"/>
<rect x="230" y="633" width="1" height="23"/>
<rect x="238" y="633" width="1" height="30"/>
<rect x="246" y="633" width="1" height="35"/>
<rect x="254" y="633" width="1" height="35"/>
<rect x="262" y="633" width="1" height="38"/>
<rect x="270" y="633" width="1" height="43"/>
<rect x="278" y="633" width="1" height="43"/>
<rect x="286" y="633" width="1" height="41"/>
<rect x="294" y="633" width="1" height="38"/>
<rect x="302" y="633" width="1" height="34"/>
<rect x="310" y="633" width="1" height="25"/>
<rect x="318" y="633" width="1" height="18"/>
<rect x="326" y="633" width="1" height="14"/>
<rect x="334" y="633" width="1" height="12"/>
<rect x="342" y="633" width="1" height="10"/>
<rect x="350" y="633" width="1" height="7"/>
<rect x="358" y="633" width="1" height="6"/>
<rect x="366" y="633" width="1" height="4"/>
<rect x="374" y="631" width="1" height="2"/>
<rect x="382" y="623" width="1" height="10"/>
<rect x="390" y="614" width="1" height="19"/>
<rect x="398" y="607" width="1" height="26"/>
<rect x="406" y="603" width="1" height="30"/>
<rect x="414" y="600" width="1" height="33"/>
<rect x="422" y="596" width="1" height="37"/>
<rect x="430" y="596" width="1" height="37"/>
<rect x="438" y="598" width="1" height="35"/>
<rect x="446" y="599" width="1" height="34"/>
<rect x="454" y="598" width="1" height="35"/>
<rect x="462" y="594" width="1" height="39"/>
<rect x="470" y="594" width="1" height="39"/>
<rect x="478" y="595" width="1" height="38"/>
<rect x="486" y="598" width="1" height="35"/>
<rect x="494" y="603" width="1" height="30"/>
<rect x="502" y="606" width="1" height="27"/>
<rect x="510" y="611" width="1" height="22"/>
<rect x="518" y="617" width="1" height="16"/>
<rect x="526" y="621" width="1" height="12"/>
<rect x="534" y="625" width="1" height="8"/>
<rect x="542" y="628" width="1" height="5"/>
<rect x="550" y="630" width="1" height="3"/>
<rect x="558" y="632" width="1" height="1"/>
<rect x="566" y="632" width="1" height="1"/>
<rect x="598" y="633" width="1" height="3"/>
<rect x="606" y="633" width="1" height="6"/>
<rect x="614" y="633" width="1" height="8"/>
<rect x="622" y="633" width="1" height="12"/>
<rect x="630" y="633" width="1" height="14"/>
<rect x="638" y="633" width="1" height="15"/>
<rect x="646" y="633" width="1" height="12"/>
<rect x="654" y="633" width="1" height="9"/>
<rect x="662" y="633" width="1" height="12"/>
<rect x="670" y="633" width="1" height="11"/>
<rect x="678" y="633" width="1" height="13"/>
<rect x="686" y="633" width="1" height="18"/>
<rect x="694" y="633" width="1" height="13"/>
<rect x="702" y="633" width="1" height="9"/>
<rect x="710" y="633" width="1" height="5"/>
<rect x="726" y="629" width="1" height="4"/>
<rect x="734" y="623" width="1" height="10"/>
<rect x="742" y="619" width="1" height="14"/>
<rect x="750" y="618" width="1" height="15"/>
<rect x="758" y="619" width="1" height="14"/>
<rect x="766" y="620" width="1" height="13"/>
<rect x="774" y="624" width="1" height="9"/>
<rect x="790" y="633" width="1" height="7"/>
<rect x="798" y="633" width="1" height="13"/>
<rect x="806" y="633" width="1" height="19"/>
<rect x="814" y="633" width="1" height="25"/>
<rect x="822" y="633" width="1" height="30"/>
<rect x="830" y="633" width="1" height="34"/>
<rect x="838" y="633" width="1" height="36"/>
<rect x="846" y="633" width="1" height="43"/>
<rect x="854" y="633" width="1" height="55"/>
<rect x="862" y="633" width="1" height="59"/>
<rect x="870" y="633" width="1" height="63"/>
<rect x="878" y="633" width="1" height="62"/>
<rect x="886" y="633" width="1" height="59"/>
<rect x="894" y="633" width="1" height="50"/>
<rect x="902" y="633" width="1" height="43"/>
<rect x="910" y="633" width="1" height="41"/>
<rect x="918" y="633" width="1" height="38"/>
<rect x="926" y="633" width="1" height="30"/>
<rect x="934" y="633" width="1" height="25"/>
<rect x="942" y="633" width="1" height="19"/>
<rect x="950" y="633" width="1" height="16"/>
<rect x="958" y="633" width="1" height="20"/>
<rect x="966" y="633" width="1" height="24"/>
<rect x="974" y="633" width="1" height="31"/>
<rect x="982" y="633" width="1" height="35"/>
<rect x="990" y="633" width="1" height="39"/>
<rect x="998" y="633" width="1" height="40"/>
<rect x="1006" y="633" width="1" height="34"/>
<rect x="1014" y="633" width="1" height="29"/>
<rect x="1022" y="633" width="1" height="29"/>
<rect x="1030" y="633" width="1" height="30"/>
<rect x="1038" y="633" width="1" height="41"/>
<rect x="1046" y="633" width="1" height="55"/>
<rect x="1054" y="633" width="1" height="67"/>
<rect x="1062" y="633" width="1" height="89"/>
<rect x="1070" y="633" width="1" height="105"/>
<rect x="1078" y="633" width="1" height="113"/>
<rect x="1086" y="633" width="1" height="107"/>
<rect x="1094" y="633" width="1" height="99"/>
<rect x="1102" y="633" width="1" height="99"/>
<rect x="1110" y="633" width="1" height="95"/>
<rect x="1118" y="633" width="1" height="88"/>
<rect x="1126" y="633" width="1" height="81"/>
<rect x="1134" y="633" width="1" height="78"/>
<rect x="1142" y="633" width="1" height="72"/>
<rect x="1150" y="633" width="1" height="60"/>
<rect x="1158" y="633" width="1" height="53"/>
<rect x="1166" y="633" width="1" height="47"/>
<rect x="1174" y="633" width="1" height="45"/>
<rect x="1182" y="633" width="1" height="42"/>
<rect x="1190" y="633" width="1" height="40"/>
<rect x="1198" y="633" width="1" height="34"/>
<rect x="1206" y="633" width="1" height="31"/>
<rect x="1214" y="633" width="1" height="28"/>
<rect x="1222" y="633" width="1" height="23"/>
<rect x="1230" y="633" width="1" height="17"/>
<rect x="1238" y="633" width="1" height="12"/>
<rect x="1246" y="633" width="1" height="9"/>
<rect x="1254" y="633" width="1" height="8"/>
<rect x="1262" y="633" width="1" height="8"/>
<rect x="1270" y="633" width="1" height="8"/>
<rect x="1278" y="633" width="1" height="11"/>
<rect x="1286" y="633" width="1" height="13"/>
<rect x="1294" y="633" width="1" height="17"/>
<rect x="1302" y="633" width="1" height="23"/>
<rect x="1310" y="633" width="1" height="23"/>
<rect x="1318" y="633" width="1" height="27"/>
<rect x="1326" y="633" width="1" height="35"/>
<rect x="1334" y="633" width="1" height="42"/>
<rect x="1342" y="633" width="1" height="55"/>
<rect x="1350" y="633" width="1" height="63"/>
<rect x="1358" y="633" width="1" height="61"/>
<rect x="1366" y="633" width="1" height="62"/>
<rect x="1374" y="633" width="1" height="57"/>
<rect x="1382" y="633" width="1" height="50"/>
<rect x="1390" y="633" width="1" height="49"/>
<rect x="1398" y="633" width="1" height="38"/>
<rect x="1406" y="633" width="1" height="38"/>
<rect x="1414" y="633" width="1" height="34"/>
<rect x="1422" y="633" width="1" height="33"/>
<rect x="1430" y="633" width="1" height="34"/>
</g>
<polyline points="0.0,623.4 6.5,622.1 13.0,621.5 51.7,621.5 54.3,622.4 67.2,622.4 71.0,623.4 103.4,623.4 106.0,622.4 115.0,622.4 122.7,624.0 131.8,625.3 137.0,627.3 142.1,630.5 149.9,633.5 156.3,635.7 161.5,637.2 168.0,639.8 173.1,642.8 179.6,646.0 184.8,648.3 191.2,650.5 197.7,652.2 201.9,652.7 212.9,653.3 225.8,652.7 238.8,653.3 245.2,655.2 258.1,657.2 269.8,661.3 277.5,663.9 284.0,665.6 293.0,668.2 303.4,670.4 311.1,670.1 322.7,667.3 335.7,662.6 348.6,656.5 361.5,649.4 374.4,642.3 387.3,635.9 400.3,628.8 411.9,622.3 419.0,618.2 430.7,610.7 437.1,607.4 443.6,604.5 448.8,602.3 455.2,600.1 461.7,598.4 472.0,597.5 478.5,596.5 500.4,596.5 505.6,597.5 509.5,599.0 515.9,600.3 522.4,602.3 527.6,603.6 534.0,606.8 539.2,609.6 545.7,613.0 552.1,615.8 558.6,618.4 563.7,621.0 570.2,623.6 576.7,625.5 581.8,627.7 588.3,628.5 593.5,630.3 599.9,631.3 606.4,633.3 612.8,634.6 619.3,635.9 624.5,636.5 629.0,638.4 639.4,640.4 652.3,642.3 665.2,643.6 678.1,645.6 687.2,646.5 710.4,645.6 720.8,643.6 731.1,640.4 738.9,637.8 749.2,633.9 755.7,630.7 762.1,628.1 768.6,625.1 775.0,624.2 791.8,624.2 798.3,626.2 803.5,628.1 809.9,631.3 816.4,635.2 822.8,639.1 829.3,643.6 832.1,645.4 839.6,651.3 846.5,656.4 851.9,660.1 857.4,664.2 862.9,669.1 869.8,673.5 875.3,676.5 882.1,680.1 887.6,682.4 894.5,684.5 902.7,685.8 912.3,686.5 921.9,684.5 930.1,681.0 939.7,675.6 946.6,671.4 953.5,667.3 958.9,665.0 965.8,662.5 972.7,660.9 980.9,659.5 990.5,659.5 998.7,661.2 1008.3,662.5 1019.3,664.2 1031.6,665.3 1038.5,667.3 1044.0,669.4 1049.6,671.4 1056.5,675.6 1061.9,679.0 1067.4,683.4 1074.3,690.0 1079.8,696.1 1085.3,702.3 1090.8,707.8 1096.2,714.0 1103.1,719.5 1108.6,723.6 1115.4,727.0 1125.0,730.2 1133.3,729.5 1141.5,725.4 1149.7,721.2 1156.6,716.0 1163.5,711.2 1171.7,703.7 1178.5,698.9 1185.4,694.1 1192.3,690.0 1199.1,685.6 1204.6,682.0 1210.1,677.6 1218.3,673.8 1225.2,670.8 1232.0,666.6 1238.9,662.8 1245.8,659.8 1252.6,655.9 1259.5,653.2 1263.7,652.1 1277.4,646.6 1288.4,645.3 1299.4,645.5 1311.7,647.3 1322.7,651.4 1335.0,656.2 1346.0,663.1 1357.0,671.3 1368.0,678.2 1377.6,682.3 1387.2,685.0 1398.1,686.1 1407.8,684.4 1418.7,681.6 1427.0,678.2" fill="none" stroke="#ff0000" stroke-width="1" stroke-dasharray="3,3" shape-rendering="crispEdges"/>
<line x1="1282" y1="636" x2="1359.7" y2="698.5" stroke="#ff0000" stroke-width="3.2" stroke-linecap="round" shape-rendering="crispEdges"/><polygon points="1369,706 1355.9,703.2 1363.4,693.8" fill="#ff0000" shape-rendering="crispEdges"/>
<line x1="1369" y1="706" x2="1408.0" y2="671.9" stroke="#ff0000" stroke-width="3.2" stroke-linecap="round" shape-rendering="crispEdges"/><polygon points="1417,664 1411.9,676.4 1404.0,667.4" fill="#ff0000" shape-rendering="crispEdges"/>
<line x1="1416" y1="663.5" x2="1435.0" y2="664.1" stroke="#ff0000" stroke-width="3.2" stroke-linecap="round" shape-rendering="crispEdges"/><polygon points="1447,664.5 1434.8,670.1 1435.2,658.1" fill="#ff0000" shape-rendering="crispEdges"/>
<g shape-rendering="crispEdges">
<line x1="0" y1="792.5" x2="1656" y2="792.5" stroke="#c0c0c0" stroke-width="1" stroke-dasharray="3,3"/>
<line x1="0" y1="843.5" x2="1656" y2="843.5" stroke="#c0c0c0" stroke-width="1" stroke-dasharray="3,3"/>
<line x1="0" y1="904.5" x2="1656" y2="904.5" stroke="#c0c0c0" stroke-width="1" stroke-dasharray="3,3"/>
</g>
<polyline points="-2.0,835.8 6.0,849.0 14.0,852.5 22.0,845.7 30.0,844.4 38.0,835.0 46.0,833.5 54.0,832.3 62.0,838.1 70.0,840.3 78.0,841.4 86.0,845.4 94.0,843.4 102.0,832.7 110.0,831.2 118.0,852.5 126.0,857.5 134.0,870.3 142.0,869.2 150.0,861.6 158.0,853.3 166.0,854.5 174.0,858.6 182.0,857.1 190.0,846.4 198.0,841.9 206.0,848.0 214.0,853.3 222.0,849.4 230.0,871.4 238.0,871.4 246.0,873.7 254.0,859.8 262.0,865.6 270.0,872.4 278.0,859.8 286.0,856.5 294.0,852.3 302.0,848.1 310.0,835.5 318.0,835.5 326.0,842.3 334.0,842.3 342.0,843.2 350.0,840.4 358.0,844.3 366.0,840.4 374.0,824.2 382.0,820.0 390.0,814.5 398.0,812.2 406.0,821.3 414.0,819.5 422.0,815.4 430.0,826.8 438.0,832.4 446.0,829.4 454.0,822.3 462.0,816.5 470.0,825.1 478.0,828.1 486.0,831.6 494.0,841.4 502.0,839.4 510.0,844.0 518.0,852.7 526.0,846.6 534.0,852.7 542.0,848.8 550.0,848.8 558.0,847.5 566.0,843.2 574.0,852.7 582.0,842.7 590.0,841.4 598.0,855.2 606.0,857.2 614.0,857.4 622.0,863.4 630.0,859.5 638.0,858.0 646.0,843.2 654.0,838.4 662.0,857.8 670.0,854.3 678.0,855.6 686.0,864.3 694.0,840.4 702.0,837.2 710.0,834.6 718.0,833.3 726.0,823.6 734.0,821.3 742.0,821.3 750.0,834.2 758.0,838.4 766.0,838.4 774.0,848.1 782.0,866.2 790.0,868.2 798.0,869.5 806.0,870.4 814.0,877.2 822.0,873.3 830.0,876.3 838.0,872.0 846.0,887.3 854.0,892.3 862.0,882.4 870.0,882.4 878.0,869.8 886.0,866.2 894.0,845.6 902.0,849.7 910.0,854.3 918.0,852.3 926.0,838.4 934.0,843.2 942.0,840.4 950.0,843.2 958.0,861.3 966.0,862.6 974.0,870.7 982.0,867.5 990.0,870.7 998.0,864.7 1006.0,845.6 1014.0,845.6 1022.0,854.6 1030.0,859.1 1038.0,876.8 1046.0,883.3 1054.0,885.5 1062.0,896.3 1070.0,896.3 1078.0,884.0 1086.0,862.0 1094.0,858.4 1102.0,866.5 1110.0,862.0 1118.0,855.6 1126.0,855.6 1134.0,859.4 1142.0,855.3 1150.0,843.7 1158.0,847.5 1166.0,849.1 1174.0,853.2 1182.0,852.3 1190.0,853.2 1198.0,845.2 1206.0,849.4 1214.0,848.4 1222.0,841.6 1230.0,839.4 1238.0,839.4 1246.0,839.4 1254.0,845.9 1262.0,851.4 1270.0,847.8 1278.0,854.0 1286.0,856.2 1294.0,859.7 1302.0,869.5 1310.0,860.5 1318.0,863.3 1326.0,874.3 1334.0,877.5 1342.0,887.2 1350.0,883.3 1358.0,861.8 1366.0,866.5 1374.0,851.7 1382.0,849.1 1390.0,847.8 1398.0,846.5 1406.0,855.6 1414.0,853.6 1422.0,852.3 1430.0,856.6" fill="none" stroke="#1e90ff" stroke-width="1" shape-rendering="crispEdges"/>
<line x1="1376" y1="846" x2="1433.4" y2="861.4" stroke="#ff0000" stroke-width="3.2" stroke-linecap="round" shape-rendering="crispEdges"/><polygon points="1445,864.5 1431.9,867.2 1435.0,855.6" fill="#ff0000" shape-rendering="crispEdges"/>
<rect x="1657" y="51" width="2" height="1" fill="#000"/>
<text x="1662" y="55" font-size="9.6" fill="#000" text-anchor="start" font-weight="normal" textLength="33" lengthAdjust="spacingAndGlyphs" stroke="#000" stroke-width="0.2">29442.0</text>
<rect x="1657" y="84" width="2" height="1" fill="#000"/>
<text x="1662" y="88" font-size="9.6" fill="#000" text-anchor="start" font-weight="normal" textLength="33" lengthAdjust="spacingAndGlyphs" stroke="#000" stroke-width="0.2">29127.0</text>
<rect x="1657" y="117" width="2" height="1" fill="#000"/>
<text x="1662" y="121" font-size="9.6" fill="#000" text-anchor="start" font-weight="normal" textLength="33" lengthAdjust="spacingAndGlyphs" stroke="#000" stroke-width="0.2">28821.0</text>
<rect x="1657" y="150" width="2" height="1" fill="#000"/>
<text x="1662" y="154" font-size="9.6" fill="#000" text-anchor="start" font-weight="normal" textLength="33" lengthAdjust="spacingAndGlyphs" stroke="#000" stroke-width="0.2">28506.0</text>
<rect x="1657" y="183" width="2" height="1" fill="#000"/>
<text x="1662" y="187" font-size="9.6" fill="#000" text-anchor="start" font-weight="normal" textLength="33" lengthAdjust="spacingAndGlyphs" stroke="#000" stroke-width="0.2">28191.0</text>
<rect x="1657" y="216" width="2" height="1" fill="#000"/>
<text x="1662" y="220" font-size="9.6" fill="#000" text-anchor="start" font-weight="normal" textLength="33" lengthAdjust="spacingAndGlyphs" stroke="#000" stroke-width="0.2">27885.0</text>
<rect x="1657" y="249" width="2" height="1" fill="#000"/>
<text x="1662" y="253" font-size="9.6" fill="#000" text-anchor="start" font-weight="normal" textLength="33" lengthAdjust="spacingAndGlyphs" stroke="#000" stroke-width="0.2">27570.0</text>
<rect x="1657" y="282" width="2" height="1" fill="#000"/>
<text x="1662" y="286" font-size="9.6" fill="#000" text-anchor="start" font-weight="normal" textLength="33" lengthAdjust="spacingAndGlyphs" stroke="#000" stroke-width="0.2">27264.0</text>
<rect x="1657" y="315" width="2" height="1" fill="#000"/>
<text x="1662" y="319" font-size="9.6" fill="#000" text-anchor="start" font-weight="normal" textLength="33" lengthAdjust="spacingAndGlyphs" stroke="#000" stroke-width="0.2">26949.0</text>
<rect x="1657" y="348" width="2" height="1" fill="#000"/>
<text x="1662" y="352" font-size="9.6" fill="#000" text-anchor="start" font-weight="normal" textLength="33" lengthAdjust="spacingAndGlyphs" stroke="#000" stroke-width="0.2">26634.0</text>
<rect x="1657" y="381" width="2" height="1" fill="#000"/>
<text x="1662" y="385" font-size="9.6" fill="#000" text-anchor="start" font-weight="normal" textLength="33" lengthAdjust="spacingAndGlyphs" stroke="#000" stroke-width="0.2">26328.0</text>
<rect x="1657" y="414" width="2" height="1" fill="#000"/>
<text x="1662" y="418" font-size="9.6" fill="#000" text-anchor="start" font-weight="normal" textLength="33" lengthAdjust="spacingAndGlyphs" stroke="#000" stroke-width="0.2">26013.0</text>
<rect x="1657" y="546" width="2" height="1" fill="#000"/>
<text x="1662" y="550" font-size="9.6" fill="#000" text-anchor="start" font-weight="normal" textLength="33" lengthAdjust="spacingAndGlyphs" stroke="#000" stroke-width="0.2">24762.0</text>
<rect x="1657" y="579" width="2" height="1" fill="#000"/>
<text x="1662" y="583" font-size="9.6" fill="#000" text-anchor="start" font-weight="normal" textLength="33" lengthAdjust="spacingAndGlyphs" stroke="#000" stroke-width="0.2">24456.0</text>
<rect x="1657" y="447" width="2" height="1" fill="#000"/>
<text x="1662" y="451" font-size="9.6" fill="#000" text-anchor="start" font-weight="normal" textLength="33" lengthAdjust="spacingAndGlyphs" stroke="#000" stroke-width="0.2">25703.0</text>
<rect x="1657" y="480" width="2" height="1" fill="#000"/>
<text x="1662" y="484" font-size="9.6" fill="#000" text-anchor="start" font-weight="normal" textLength="33" lengthAdjust="spacingAndGlyphs" stroke="#000" stroke-width="0.2">25388.0</text>
<rect x="1657" y="513" width="2" height="1" fill="#000"/>
<text x="1662" y="517" font-size="9.6" fill="#000" text-anchor="start" font-weight="normal" textLength="33" lengthAdjust="spacingAndGlyphs" stroke="#000" stroke-width="0.2">25076.0</text>
<rect x="1658" y="439" width="41" height="11" fill="#ff0000"/>
<text x="1662" y="447.8" font-size="9.6" fill="#fff" text-anchor="start" font-weight="normal" textLength="32.5" lengthAdjust="spacingAndGlyphs" stroke="#fff" stroke-width="0.15">25721.6</text>
<rect x="1658" y="456" width="41" height="11" fill="#ff0000"/>
<text x="1662" y="464.8" font-size="9.6" fill="#fff" text-anchor="start" font-weight="normal" textLength="32.5" lengthAdjust="spacingAndGlyphs" stroke="#fff" stroke-width="0.15">25561.2</text>
<rect x="1658" y="477" width="41" height="11" fill="#32c832"/>
<text x="1662" y="485.8" font-size="9.6" fill="#fff" text-anchor="start" font-weight="normal" textLength="32.5" lengthAdjust="spacingAndGlyphs" stroke="#fff" stroke-width="0.15">25363.0</text>
<rect x="1658" y="488" width="41" height="11" fill="#000000"/>
<text x="1662" y="496.8" font-size="9.6" fill="#fff" text-anchor="start" font-weight="normal" textLength="32.5" lengthAdjust="spacingAndGlyphs" stroke="#fff" stroke-width="0.15">25283.0</text>
<rect x="1658" y="505" width="41" height="11" fill="#0000ff"/>
<text x="1662" y="513.8" font-size="9.6" fill="#fff" text-anchor="start" font-weight="normal" textLength="32.5" lengthAdjust="spacingAndGlyphs" stroke="#fff" stroke-width="0.15">25098.9</text>
<rect x="1658" y="526" width="41" height="11" fill="#0000ff"/>
<text x="1662" y="534.8" font-size="9.6" fill="#fff" text-anchor="start" font-weight="normal" textLength="32.5" lengthAdjust="spacingAndGlyphs" stroke="#fff" stroke-width="0.15">24900.7</text>
<rect x="1657" y="586" width="2" height="1" fill="#000"/>
<text x="1660" y="594.5" font-size="9.6" fill="#000" text-anchor="start" font-weight="normal" textLength="27.3" lengthAdjust="spacingAndGlyphs" stroke="#000" stroke-width="0.2">275.75</text>
<rect x="1657" y="633" width="2" height="1" fill="#000"/>
<text x="1660" y="636.5" font-size="9.6" fill="#000" text-anchor="start" font-weight="normal" textLength="19" lengthAdjust="spacingAndGlyphs" stroke="#000" stroke-width="0.2">0.00</text>
<rect x="1657" y="753" width="2" height="1" fill="#000"/>
<text x="1660" y="750.5" font-size="9.6" fill="#000" text-anchor="start" font-weight="normal" textLength="30.6" lengthAdjust="spacingAndGlyphs" stroke="#000" stroke-width="0.2">-698.77</text>
<rect x="1657" y="757" width="2" height="1" fill="#000"/>
<text x="1660" y="766.5" font-size="9.6" fill="#000" text-anchor="start" font-weight="normal" textLength="14.3" lengthAdjust="spacingAndGlyphs" stroke="#000" stroke-width="0.2">100</text>
<rect x="1657" y="792" width="2" height="1" fill="#000"/>
<text x="1660" y="795.5" font-size="9.6" fill="#000" text-anchor="start" font-weight="normal" textLength="9.5" lengthAdjust="spacingAndGlyphs" stroke="#000" stroke-width="0.2">80</text>
<rect x="1657" y="843" width="2" height="1" fill="#000"/>
<text x="1660" y="846.5" font-size="9.6" fill="#000" text-anchor="start" font-weight="normal" textLength="9.5" lengthAdjust="spacingAndGlyphs" stroke="#000" stroke-width="0.2">50</text>
<rect x="1657" y="904" width="2" height="1" fill="#000"/>
<text x="1660" y="907.5" font-size="9.6" fill="#000" text-anchor="start" font-weight="normal" textLength="9.5" lengthAdjust="spacingAndGlyphs" stroke="#000" stroke-width="0.2">15</text>
<rect x="1657" y="929" width="2" height="1" fill="#000"/>
<text x="1660" y="926.5" font-size="9.6" fill="#000" text-anchor="start" font-weight="normal" textLength="4.8" lengthAdjust="spacingAndGlyphs" stroke="#000" stroke-width="0.2">0</text>
<text x="-3" y="943" font-size="10.4" fill="#000" text-anchor="start" font-weight="normal" textLength="51.0" lengthAdjust="spacingAndGlyphs" stroke="#000" stroke-width="0.2">20 Apr 2021</text>
<rect x="62" y="931" width="1" height="3" fill="#000"/>
<text x="61" y="943" font-size="10.4" fill="#000" text-anchor="start" font-weight="normal" textLength="53.6" lengthAdjust="spacingAndGlyphs" stroke="#000" stroke-width="0.2">26 Apr 05:00</text>
<rect x="126" y="931" width="1" height="3" fill="#000"/>
<text x="125" y="943" font-size="10.4" fill="#000" text-anchor="start" font-weight="normal" textLength="53.6" lengthAdjust="spacingAndGlyphs" stroke="#000" stroke-width="0.2">30 Apr 05:00</text>
<rect x="190" y="931" width="1" height="3" fill="#000"/>
<text x="189" y="943" font-size="10.4" fill="#000" text-anchor="start" font-weight="normal" textLength="52.0" lengthAdjust="spacingAndGlyphs" stroke="#000" stroke-width="0.2">6 May 05:00</text>
<rect x="254" y="931" width="1" height="3" fill="#000"/>
<text x="253" y="943" font-size="10.4" fill="#000" text-anchor="start" font-weight="normal" textLength="57.3" lengthAdjust="spacingAndGlyphs" stroke="#000" stroke-width="0.2">12 May 05:00</text>
<rect x="318" y="931" width="1" height="3" fill="#000"/>
<text x="317" y="943" font-size="10.4" fill="#000" text-anchor="start" font-weight="normal" textLength="57.3" lengthAdjust="spacingAndGlyphs" stroke="#000" stroke-width="0.2">18 May 05:00</text>
<rect x="382" y="931" width="1" height="3" fill="#000"/>
<text x="381" y="943" font-size="10.4" fill="#000" text-anchor="start" font-weight="normal" textLength="57.3" lengthAdjust="spacingAndGlyphs" stroke="#000" stroke-width="0.2">25 May 05:00</text>
<rect x="446" y="931" width="1" height="3" fill="#000"/>
<text x="445" y="943" font-size="10.4" fill="#000" text-anchor="start" font-weight="normal" textLength="57.3" lengthAdjust="spacingAndGlyphs" stroke="#000" stroke-width="0.2">31 May 05:00</text>
<rect x="510" y="931" width="1" height="3" fill="#000"/>
<text x="509" y="943" font-size="10.4" fill="#000" text-anchor="start" font-weight="normal" textLength="49.4" lengthAdjust="spacingAndGlyphs" stroke="#000" stroke-width="0.2">4 Jun 05:00</text>
<rect x="574" y="931" width="1" height="3" fill="#000"/>
<text x="573" y="943" font-size="10.4" fill="#000" text-anchor="start" font-weight="normal" textLength="54.6" lengthAdjust="spacingAndGlyphs" stroke="#000" stroke-width="0.2">10 Jun 05:00</text>
<rect x="638" y="931" width="1" height="3" fill="#000"/>
<text x="637" y="943" font-size="10.4" fill="#000" text-anchor="start" font-weight="normal" textLength="54.6" lengthAdjust="spacingAndGlyphs" stroke="#000" stroke-width="0.2">17 Jun 05:00</text>
<rect x="702" y="931" width="1" height="3" fill="#000"/>
<text x="701" y="943" font-size="10.4" fill="#000" text-anchor="start" font-weight="normal" textLength="54.6" lengthAdjust="spacingAndGlyphs" stroke="#000" stroke-width="0.2">23 Jun 05:00</text>
<rect x="766" y="931" width="1" height="3" fill="#000"/>
<text x="765" y="943" font-size="10.4" fill="#000" text-anchor="start" font-weight="normal" textLength="54.6" lengthAdjust="spacingAndGlyphs" stroke="#000" stroke-width="0.2">30 Jun 01:15</text>
<rect x="830" y="931" width="1" height="3" fill="#000"/>
<text x="829" y="943" font-size="10.4" fill="#000" text-anchor="start" font-weight="normal" textLength="46.2" lengthAdjust="spacingAndGlyphs" stroke="#000" stroke-width="0.2">7 Jul 01:15</text>
<rect x="894" y="931" width="1" height="3" fill="#000"/>
<text x="893" y="943" font-size="10.4" fill="#000" text-anchor="start" font-weight="normal" textLength="51.5" lengthAdjust="spacingAndGlyphs" stroke="#000" stroke-width="0.2">13 Jul 01:15</text>
<rect x="958" y="931" width="1" height="3" fill="#000"/>
<text x="957" y="943" font-size="10.4" fill="#000" text-anchor="start" font-weight="normal" textLength="51.5" lengthAdjust="spacingAndGlyphs" stroke="#000" stroke-width="0.2">19 Jul 01:15</text>
<rect x="1022" y="931" width="1" height="3" fill="#000"/>
<text x="1021" y="943" font-size="10.4" fill="#000" text-anchor="start" font-weight="normal" textLength="51.5" lengthAdjust="spacingAndGlyphs" stroke="#000" stroke-width="0.2">23 Jul 01:15</text>
<rect x="1086" y="931" width="1" height="3" fill="#000"/>
<text x="1085" y="943" font-size="10.4" fill="#000" text-anchor="start" font-weight="normal" textLength="51.5" lengthAdjust="spacingAndGlyphs" stroke="#000" stroke-width="0.2">29 Jul 01:15</text>
<rect x="1150" y="931" width="1" height="3" fill="#000"/>
<text x="1149" y="943" font-size="10.4" fill="#000" text-anchor="start" font-weight="normal" textLength="50.4" lengthAdjust="spacingAndGlyphs" stroke="#000" stroke-width="0.2">4 Aug 01:15</text>
<rect x="1214" y="931" width="1" height="3" fill="#000"/>
<text x="1213" y="943" font-size="10.4" fill="#000" text-anchor="start" font-weight="normal" textLength="55.7" lengthAdjust="spacingAndGlyphs" stroke="#000" stroke-width="0.2">10 Aug 01:15</text>
<rect x="1278" y="931" width="1" height="3" fill="#000"/>
<text x="1277" y="943" font-size="10.4" fill="#000" text-anchor="start" font-weight="normal" textLength="55.7" lengthAdjust="spacingAndGlyphs" stroke="#000" stroke-width="0.2">16 Aug 01:15</text>
<rect x="1342" y="931" width="1" height="3" fill="#000"/>
<text x="1341" y="943" font-size="10.4" fill="#000" text-anchor="start" font-weight="normal" textLength="55.7" lengthAdjust="spacingAndGlyphs" stroke="#000" stroke-width="0.2">20 Aug 01:15</text>
<rect x="1406" y="931" width="1" height="3" fill="#000"/>
<text x="1405" y="943" font-size="10.4" fill="#000" text-anchor="start" font-weight="normal" textLength="55.7" lengthAdjust="spacingAndGlyphs" stroke="#000" stroke-width="0.2">26 Aug 01:15</text>
<polygon points="1,40.5 8.5,40.5 4.75,36" fill="#000"/>
<text x="13" y="41" font-size="9.7" fill="#000" text-anchor="start" font-weight="normal" textLength="40.5" lengthAdjust="spacingAndGlyphs" stroke="#000" stroke-width="0.25">HK50-,H4</text>
<text x="60.5" y="41" font-size="9.7" fill="#000" text-anchor="start" font-weight="normal" textLength="32.2" lengthAdjust="spacingAndGlyphs" stroke="#000" stroke-width="0.25">25423.0</text>
<text x="96.25" y="41" font-size="9.7" fill="#000" text-anchor="start" font-weight="normal" textLength="32.2" lengthAdjust="spacingAndGlyphs" stroke="#000" stroke-width="0.25">25426.0</text>
<text x="132.0" y="41" font-size="9.7" fill="#000" text-anchor="start" font-weight="normal" textLength="32.2" lengthAdjust="spacingAndGlyphs" stroke="#000" stroke-width="0.25">25207.0</text>
<text x="167.75" y="41" font-size="9.7" fill="#000" text-anchor="start" font-weight="normal" textLength="32.2" lengthAdjust="spacingAndGlyphs" stroke="#000" stroke-width="0.25">25283.0</text>
<text x="2" y="597" font-size="9.8" fill="#000" text-anchor="start" font-weight="normal" textLength="134" lengthAdjust="spacingAndGlyphs" stroke="#000" stroke-width="0.25">MACD(12,26,9) -198.50 -254.64</text>
<text x="2" y="769" font-size="9.8" fill="#000" text-anchor="start" font-weight="normal" textLength="68" lengthAdjust="spacingAndGlyphs" stroke="#000" stroke-width="0.25">RSI(14) 42.3550</text>
<g>
<rect x="0" y="48" width="222" height="59" fill="#fff"/>
<rect x="1" y="49" width="52" height="25" fill="url(#gTop)"/>
<rect x="1" y="73" width="109" height="33" fill="url(#gBot)"/>
<rect x="168" y="49" width="52" height="25" fill="url(#gTop)"/>
<rect x="112" y="73" width="108" height="33" fill="url(#gBot)"/>
<rect x="5" y="72" width="44" height="1" fill="#8a0000"/>
<rect x="172" y="72" width="44" height="1" fill="#8a0000"/>
<rect x="55.5" y="49.5" width="110" height="21" fill="#fff" stroke="#a8a8a8" stroke-width="1"/>
<rect x="57" y="51" width="19" height="19" fill="url(#gBtn)"/>
<rect x="76" y="50" width="1" height="20" fill="#b4b4b4"/>
<rect x="145" y="51" width="19" height="19" fill="url(#gBtn)"/>
<rect x="144" y="50" width="1" height="20" fill="#b4b4b4"/>
<polygon points="63.5,58.5 69.5,58.5 66.5,61.5" fill="#5060c0"/>
<polygon points="151.5,61 157.5,61 154.5,58" fill="#5060c0"/>
<text x="140.5" y="63.8" font-size="12.5" fill="#000" text-anchor="end" font-weight="normal" textLength="23" lengthAdjust="spacingAndGlyphs" stroke="#000" stroke-width="0.1">1.00</text>
<text x="13.5" y="65" font-size="12.5" fill="#fff" text-anchor="start" font-weight="normal" textLength="25.5" lengthAdjust="spacingAndGlyphs">SELL</text>
<text x="181.5" y="65" font-size="12.5" fill="#fff" text-anchor="start" font-weight="normal" textLength="23.5" lengthAdjust="spacingAndGlyphs">BUY</text>
<text x="17" y="100.8" font-size="12.5" fill="#fff" text-anchor="start" font-weight="bold" textLength="35" lengthAdjust="spacingAndGlyphs">25281</text>
<rect x="56" y="97" width="3.5" height="3.5" rx="1" fill="#fff"/>
<text x="63.8" y="101" font-size="34" fill="#fff" text-anchor="start" font-weight="normal" textLength="14.5" lengthAdjust="spacingAndGlyphs">5</text>
<text x="127" y="100.8" font-size="12.5" fill="#fff" text-anchor="start" font-weight="bold" textLength="35" lengthAdjust="spacingAndGlyphs">25294</text>
<rect x="167" y="97" width="3.5" height="3.5" rx="1" fill="#fff"/>
<text x="174.8" y="101" font-size="34" fill="#fff" text-anchor="start" font-weight="normal" textLength="14.5" lengthAdjust="spacingAndGlyphs">5</text>
</g>
<g shape-rendering="geometricPrecision">
<rect x="-2" y="4.5" width="7" height="5" fill="#fff" stroke="#9a9a9a" stroke-width="1"/>
<circle cx="2" cy="14" r="4.3" fill="#e4f2fb" stroke="#78a8e0" stroke-width="1.4"/>
<line x1="5.3" y1="17.6" x2="8.8" y2="21.4" stroke="#c89a20" stroke-width="3"/>
<rect x="17" y="2" width="1" height="21" fill="#a8a8a8"/>
<path d="M27.5,5.5 h8.5 l3,3 v10.5 h-12 z" fill="#fff" stroke="#6a6a6a" stroke-width="1"/>
<rect x="29" y="7.5" width="3" height="1.5" fill="#888"/><rect x="29" y="11" width="7" height="1" fill="#888"/><rect x="29" y="13" width="5" height="1" fill="#888"/><rect x="29" y="15" width="3" height="1" fill="#888"/>
<path d="M35.0,11.2 h3.9 v3.9 h3.9 v3.9 h-3.9 v3.9 h-3.9 v-3.9 h-3.9 v-3.9 h3.9 z" fill="#28e040" stroke="#0a7a10" stroke-width="1"/>
<text x="46" y="16" font-size="12" fill="#000" text-anchor="start" font-weight="normal" textLength="36" lengthAdjust="spacingAndGlyphs" stroke="#000" stroke-width="0.3">新订单</text>
<polygon points="99.7,6.2 108.6,12.3 109.7,15.3 102.1,20.6 94.2,14.7 98.3,9.7" fill="#e6b420" stroke="#a46a10" stroke-width="1"/>
<polygon points="100.5,8 107.5,12.6 101.5,17.5 96.5,14" fill="#f6d848"/>
<rect x="124" y="5" width="11" height="9" fill="#1a9af0"/><rect x="124" y="5" width="3" height="9" fill="#0a7ad8"/><rect x="129" y="9" width="5" height="1.5" fill="#cfe8ff"/>
<path d="M123,20.5 q-1.5,-3.5 2.5,-4 q1,-3 4.5,-2.5 q2.5,-2 5,0.5 q3,0 2.5,3 q1.5,2.5 -1.5,3 z" fill="#eef2fa" stroke="#3a5a9a" stroke-width="1"/>
<circle cx="157.9" cy="12.9" r="7.5" fill="none" stroke="#8ab0e0" stroke-width="1"/>
<circle cx="157.9" cy="12.9" r="4.8" fill="none" stroke="#a0c0e8" stroke-width="1"/>
<path d="M157.9,5.4 a7.5,7.5 0 0 1 0,15" fill="none" stroke="#60b060" stroke-width="1"/>
<circle cx="157.9" cy="12.9" r="2" fill="#2050c8"/>
<rect x="158" y="13" width="1.2" height="7.7" fill="#20a020"/>
<polygon points="177.3,12 192.8,11.5 189,20.7 184,20.7" fill="#f6d040" stroke="#c89a10" stroke-width="0.8"/>
<ellipse cx="185" cy="9.5" rx="7.8" ry="3.3" fill="#5ab4e8" stroke="#1a7ab0" stroke-width="0.8"/>
<ellipse cx="185" cy="7.5" rx="4" ry="2.8" fill="#6ac0f0" stroke="#1a7ab0" stroke-width="0.8"/>
<circle cx="189.6" cy="16.8" r="4.2" fill="#e01808" stroke="#a00000" stroke-width="0.6"/>
<rect x="188" y="15.2" width="3" height="3" fill="#fff"/>
<text x="199" y="16" font-size="12" fill="#000" text-anchor="start" font-weight="normal" textLength="46.5" lengthAdjust="spacingAndGlyphs" stroke="#000" stroke-width="0.3">自动交易</text>
<rect x="253" y="0" width="1" height="25" fill="#a0a0a0"/><rect x="254" y="0" width="1" height="25" fill="#fdfdfd"/>
<rect x="257" y="3" width="3" height="1" fill="#a0a0a0"/><rect x="257" y="5" width="3" height="1" fill="#a0a0a0"/><rect x="257" y="7" width="3" height="1" fill="#a0a0a0"/><rect x="257" y="9" width="3" height="1" fill="#a0a0a0"/><rect x="257" y="11" width="3" height="1" fill="#a0a0a0"/><rect x="257" y="13" width="3" height="1" fill="#a0a0a0"/><rect x="257" y="15" width="3" height="1" fill="#a0a0a0"/><rect x="257" y="17" width="3" height="1" fill="#a0a0a0"/><rect x="257" y="19" width="3" height="1" fill="#a0a0a0"/><rect x="257" y="21" width="3" height="1" fill="#a0a0a0"/>
<rect x="271" y="7" width="1.2" height="14" fill="#505050"/><polygon points="269.7,9.2 271.6,6.3 273.5,9.2" fill="#505050"/><rect x="269" y="18" width="13" height="1.2" fill="#505050"/><polygon points="281.2,16.7 284.3,18.6 281.2,20.5" fill="#505050"/>
<rect x="277" y="8" width="1.3" height="8.5" fill="#1a9a1a"/><rect x="277" y="9" width="3" height="1.2" fill="#1a9a1a"/><rect x="275" y="15" width="2.5" height="1.2" fill="#1a9a1a"/>
<rect x="291" y="1" width="25" height="22" fill="#f7f7f7"/><rect x="291" y="1" width="25" height="1" fill="#9a9a9a"/><rect x="291" y="1" width="1" height="22" fill="#9a9a9a"/><rect x="291" y="23" width="25" height="1" fill="#ffffff"/><rect x="315" y="1" width="1" height="22" fill="#ffffff"/>
<rect x="299" y="7" width="1.2" height="14" fill="#505050"/><polygon points="297.7,9.2 299.6,6.3 301.5,9.2" fill="#505050"/><rect x="297" y="18" width="13" height="1.2" fill="#505050"/><polygon points="309.2,16.7 312.3,18.6 309.2,20.5" fill="#505050"/>
<rect x="305" y="5.2" width="1.2" height="11.6" fill="#0a8a0a"/><rect x="303.2" y="7.2" width="4.7" height="7.6" fill="#30e050" stroke="#0a8a0a" stroke-width="1"/>
<rect x="327" y="7" width="1.2" height="14" fill="#505050"/><polygon points="325.7,9.2 327.6,6.3 329.5,9.2" fill="#505050"/><rect x="325" y="18" width="13" height="1.2" fill="#505050"/><polygon points="337.2,16.7 340.3,18.6 337.2,20.5" fill="#505050"/>
<path d="M326,15.8 Q332,6 337.5,14.3" fill="none" stroke="#20a020" stroke-width="1.2"/>
<rect x="348" y="2" width="1" height="21" fill="#a8a8a8"/>
<line x1="366.8" y1="14.3" x2="372.1" y2="20.2" stroke="#a07008" stroke-width="3.6"/>
<line x1="366.8" y1="14.3" x2="372.1" y2="20.2" stroke="#f0d040" stroke-width="2"/>
<circle cx="363.1" cy="10.9" r="5.4" fill="#dff2fb" stroke="#3a78c8" stroke-width="1.2"/>
<rect x="359.8" y="10.1" width="6.6" height="1.7" fill="#4a88b0"/>
<rect x="362.25" y="7.8" width="1.7" height="6.2" fill="#4a88b0"/>
<line x1="394.8" y1="14.3" x2="400.1" y2="20.2" stroke="#a07008" stroke-width="3.6"/>
<line x1="394.8" y1="14.3" x2="400.1" y2="20.2" stroke="#f0d040" stroke-width="2"/>
<circle cx="391.1" cy="10.9" r="5.4" fill="#dff2fb" stroke="#3a78c8" stroke-width="1.2"/>
<rect x="387.8" y="10.1" width="6.6" height="1.7" fill="#4a88b0"/>
<rect x="413" y="5" width="7.8" height="7.8" rx="0.8" fill="#3a9a1a"/>
<rect x="414" y="7.8" width="5.8" height="3.2" fill="#fff"/>
<rect x="421.3" y="5" width="7.8" height="7.8" rx="0.8" fill="#1a48c8"/>
<rect x="422.3" y="7.8" width="5.8" height="3.2" fill="#fff"/>
<rect x="413" y="13.3" width="7.8" height="7.8" rx="0.8" fill="#1a48c8"/>
<rect x="414" y="16.1" width="5.8" height="3.2" fill="#fff"/>
<rect x="421.3" y="13.3" width="7.8" height="7.8" rx="0.8" fill="#3a9a1a"/>
<rect x="422.3" y="16.1" width="5.8" height="3.2" fill="#fff"/>
<rect x="437" y="0" width="1" height="25" fill="#a0a0a0"/><rect x="438" y="0" width="1" height="25" fill="#fdfdfd"/>
<rect x="443" y="1" width="25" height="22" fill="#f7f7f7"/><rect x="443" y="1" width="25" height="1" fill="#9a9a9a"/><rect x="443" y="1" width="1" height="22" fill="#9a9a9a"/><rect x="443" y="23" width="25" height="1" fill="#ffffff"/><rect x="467" y="1" width="1" height="22" fill="#ffffff"/>
<rect x="451" y="7" width="1.2" height="14" fill="#505050"/><polygon points="449.7,9.2 451.6,6.3 453.5,9.2" fill="#505050"/><rect x="449" y="18" width="13" height="1.2" fill="#505050"/><polygon points="461.2,16.7 464.3,18.6 461.2,20.5" fill="#505050"/>
<polygon points="456,9.1 456,15.8 460.5,12.5" fill="#40c040" stroke="#1a9a1a" stroke-width="0.8"/>
<rect x="471" y="1" width="25" height="22" fill="#f7f7f7"/><rect x="471" y="1" width="25" height="1" fill="#9a9a9a"/><rect x="471" y="1" width="1" height="22" fill="#9a9a9a"/><rect x="471" y="23" width="25" height="1" fill="#ffffff"/><rect x="495" y="1" width="1" height="22" fill="#ffffff"/>
<rect x="479" y="7" width="1.2" height="14" fill="#505050"/><polygon points="477.7,9.2 479.6,6.3 481.5,9.2" fill="#505050"/><rect x="477" y="18" width="13" height="1.2" fill="#505050"/><polygon points="489.2,16.7 492.3,18.6 489.2,20.5" fill="#505050"/>
<rect x="485" y="7.2" width="1.2" height="9.6" fill="#1a6ab0"/><polygon points="486.5,12.3 490.5,10 489.5,12.3 490.8,12.3 490.8,12.6 489.5,12.6 490.5,14.8" fill="#e05010"/>
<rect x="500" y="2" width="1" height="21" fill="#a8a8a8"/>
<path d="M510.5,5.5 h8.0 l3,3 v10.5 h-11.5 z" fill="#fff" stroke="#6a6a6a" stroke-width="1"/>
<text x="512.5" y="15" font-size="8" fill="#555" text-anchor="start" font-weight="bold">f</text>
<path d="M517.9,11 h3.9 v3.9 h3.9 v3.9 h-3.9 v3.9 h-3.9 v-3.9 h-3.9 v-3.9 h3.9 z" fill="#28e040" stroke="#0a7a10" stroke-width="1"/>
<polygon points="532,12 537,12 534.5,15" fill="#000"/>
<circle cx="556" cy="12.5" r="7.3" fill="#2a70d0" stroke="#1a50a0" stroke-width="0.8"/><circle cx="556" cy="12.5" r="5.3" fill="#f4f4f4"/>
<rect x="555.5" y="8.8" width="1" height="4" fill="#333"/><rect x="555.5" y="12.3" width="3.5" height="1" fill="#333"/>
<polygon points="571,12 576,12 573.5,15" fill="#000"/>
<rect x="587.5" y="6.5" width="15" height="12.5" fill="#fff" stroke="#3a70c0"/><rect x="588" y="7" width="14" height="2" fill="#6090d0"/>
<polyline points="589,13 592,12 595,13 598,11.5 601,12" fill="none" stroke="#b03020" stroke-width="1"/>
<polyline points="589,17 592,15.5 595,17 598,15 601,16.5" fill="none" stroke="#20a020" stroke-width="1"/>
<polygon points="610,12 615,12 612.5,15" fill="#000"/>
<rect x="621" y="0" width="1" height="25" fill="#a0a0a0"/><rect x="622" y="0" width="1" height="25" fill="#fdfdfd"/>
<rect x="625" y="3" width="3" height="1" fill="#a0a0a0"/><rect x="625" y="5" width="3" height="1" fill="#a0a0a0"/><rect x="625" y="7" width="3" height="1" fill="#a0a0a0"/><rect x="625" y="9" width="3" height="1" fill="#a0a0a0"/><rect x="625" y="11" width="3" height="1" fill="#a0a0a0"/><rect x="625" y="13" width="3" height="1" fill="#a0a0a0"/><rect x="625" y="15" width="3" height="1" fill="#a0a0a0"/><rect x="625" y="17" width="3" height="1" fill="#a0a0a0"/><rect x="625" y="19" width="3" height="1" fill="#a0a0a0"/><rect x="625" y="21" width="3" height="1" fill="#a0a0a0"/>
<rect x="631" y="1" width="25" height="22" fill="#f7f7f7"/><rect x="631" y="1" width="25" height="1" fill="#9a9a9a"/><rect x="631" y="1" width="1" height="22" fill="#9a9a9a"/><rect x="631" y="23" width="25" height="1" fill="#ffffff"/><rect x="655" y="1" width="1" height="22" fill="#ffffff"/>
<polygon points="639,6 647.5,14.3 643.8,14.5 646,19.2 644.3,20 642.2,15.4 639,18" fill="#3c3c3c"/>
<rect x="664" y="12.8" width="6" height="1.2" fill="#444"/><rect x="673" y="12.8" width="6" height="1.2" fill="#444"/><rect x="671" y="6" width="1.2" height="5.5" fill="#444"/><rect x="671" y="15" width="1.2" height="5.5" fill="#444"/>
<rect x="688" y="2" width="1" height="21" fill="#a8a8a8"/>
<rect x="705" y="7" width="1.3" height="13" fill="#404040"/>
<rect x="728" y="12.8" width="12" height="1.3" fill="#404040"/>
<line x1="756" y1="20" x2="768.4" y2="7.6" stroke="#404040" stroke-width="1.2"/>
<line x1="782" y1="15" x2="793" y2="6" stroke="#404040" stroke-width="1"/><line x1="784" y1="19.5" x2="795.5" y2="10" stroke="#404040" stroke-width="1"/>
<line x1="785" y1="11.5" x2="787" y2="18" stroke="#404040"/><line x1="789" y1="8.5" x2="791" y2="15" stroke="#404040"/><line x1="793" y1="6" x2="794" y2="10" stroke="#404040"/>
<text x="793" y="21.5" font-size="7" fill="#404040" text-anchor="start" font-weight="bold">E</text>
<line x1="811" y1="6.5" x2="825" y2="6.5" stroke="#505050" stroke-width="1" stroke-dasharray="1,1"/>
<line x1="811" y1="9.5" x2="825" y2="9.5" stroke="#505050" stroke-width="1" stroke-dasharray="1,1"/>
<line x1="811" y1="13.2" x2="825" y2="13.2" stroke="#505050" stroke-width="1" stroke-dasharray="1,1"/>
<line x1="811" y1="17" x2="825" y2="17" stroke="#505050" stroke-width="1" stroke-dasharray="1,1"/>
<text x="820.5" y="21.8" font-size="7" fill="#404040" text-anchor="start" font-weight="bold">F</text>
<text x="842" y="18" font-size="12" fill="#555" text-anchor="start" font-weight="normal" textLength="7.6" lengthAdjust="spacingAndGlyphs" stroke="#555" stroke-width="0.3">A</text>
<rect x="868" y="7" width="11.5" height="12.5" fill="none" stroke="#505050" stroke-width="1" stroke-dasharray="1,1"/>
<text x="869.8" y="17.8" font-size="11" fill="#505050" text-anchor="start" font-weight="bold" textLength="8.5" lengthAdjust="spacingAndGlyphs">T</text>
<polygon points="895,10 898,7 901,10 898,12.5" fill="#505050"/><polygon points="903,17 906,14 909,17 906,19.5" fill="#505050"/>
<polyline points="897.5,13.5 899.5,16.5 904,12" fill="none" stroke="#505050" stroke-width="1.3"/>
<polygon points="916,12 921,12 918.5,15" fill="#000"/>
<rect x="927" y="0" width="1" height="25" fill="#a0a0a0"/><rect x="928" y="0" width="1" height="25" fill="#fdfdfd"/>
<rect x="931" y="3" width="3" height="1" fill="#a0a0a0"/><rect x="931" y="5" width="3" height="1" fill="#a0a0a0"/><rect x="931" y="7" width="3" height="1" fill="#a0a0a0"/><rect x="931" y="9" width="3" height="1" fill="#a0a0a0"/><rect x="931" y="11" width="3" height="1" fill="#a0a0a0"/><rect x="931" y="13" width="3" height="1" fill="#a0a0a0"/><rect x="931" y="15" width="3" height="1" fill="#a0a0a0"/><rect x="931" y="17" width="3" height="1" fill="#a0a0a0"/><rect x="931" y="19" width="3" height="1" fill="#a0a0a0"/><rect x="931" y="21" width="3" height="1" fill="#a0a0a0"/>
<text x="942" y="17.3" font-size="10.3" fill="#3a3a3a" text-anchor="start" font-weight="normal" textLength="13" lengthAdjust="spacingAndGlyphs" stroke="#3a3a3a" stroke-width="0.05">M1</text>
<text x="970" y="17.3" font-size="10.3" fill="#3a3a3a" text-anchor="start" font-weight="normal" textLength="13.2" lengthAdjust="spacingAndGlyphs" stroke="#3a3a3a" stroke-width="0.05">M5</text>
<text x="996" y="17.3" font-size="10.3" fill="#3a3a3a" text-anchor="start" font-weight="normal" textLength="18.6" lengthAdjust="spacingAndGlyphs" stroke="#3a3a3a" stroke-width="0.05">M15</text>
<text x="1024" y="17.3" font-size="10.3" fill="#3a3a3a" text-anchor="start" font-weight="normal" textLength="18.6" lengthAdjust="spacingAndGlyphs" stroke="#3a3a3a" stroke-width="0.05">M30</text>
<text x="1055" y="17.3" font-size="10.3" fill="#3a3a3a" text-anchor="start" font-weight="normal" textLength="12" lengthAdjust="spacingAndGlyphs" stroke="#3a3a3a" stroke-width="0.05">H1</text>
<rect x="1077" y="1" width="26" height="22" fill="#f7f7f7"/><rect x="1077" y="1" width="26" height="1" fill="#9a9a9a"/><rect x="1077" y="1" width="1" height="22" fill="#9a9a9a"/><rect x="1077" y="23" width="26" height="1" fill="#ffffff"/><rect x="1102" y="1" width="1" height="22" fill="#ffffff"/>
<text x="1082.5" y="17.3" font-size="10.3" fill="#3a3a3a" text-anchor="start" font-weight="normal" textLength="12.2" lengthAdjust="spacingAndGlyphs" stroke="#3a3a3a" stroke-width="0.05">H4</text>
<text x="1111.5" y="17.3" font-size="10.3" fill="#3a3a3a" text-anchor="start" font-weight="normal" textLength="11.5" lengthAdjust="spacingAndGlyphs" stroke="#3a3a3a" stroke-width="0.05">D1</text>
<text x="1138.5" y="17.3" font-size="10.3" fill="#3a3a3a" text-anchor="start" font-weight="normal" textLength="15" lengthAdjust="spacingAndGlyphs" stroke="#3a3a3a" stroke-width="0.05">W1</text>
<text x="1165.5" y="17.3" font-size="10.3" fill="#3a3a3a" text-anchor="start" font-weight="normal" textLength="15.3" lengthAdjust="spacingAndGlyphs" stroke="#3a3a3a" stroke-width="0.05">MN</text>
<rect x="1188" y="0" width="1" height="25" fill="#a0a0a0"/><rect x="1189" y="0" width="1" height="25" fill="#fdfdfd"/>
<circle cx="1658.5" cy="10.5" r="3.9" fill="#fff" stroke="#2a5ad0" stroke-width="1.4"/>
<line x1="1655.8" y1="13.3" x2="1651.6" y2="17.6" stroke="#2a5ad0" stroke-width="2.4" stroke-linecap="round"/>
<path d="M1676,14.5 a6,4.5 0 1 1 6,4.5 l-2.5,2.5 l0,-2.8 a6,4.5 0 0 1 -3.5,-4.2 z" fill="#e0e0e8" stroke="#a8a8a8" stroke-width="0.8"/>
<circle cx="1689.6" cy="10.3" r="8" fill="url(#gRed)"/>
<text x="1689.6" y="14.6" font-size="12" fill="#fff" text-anchor="middle" font-weight="bold">1</text>
</g>
</svg></body></html>
